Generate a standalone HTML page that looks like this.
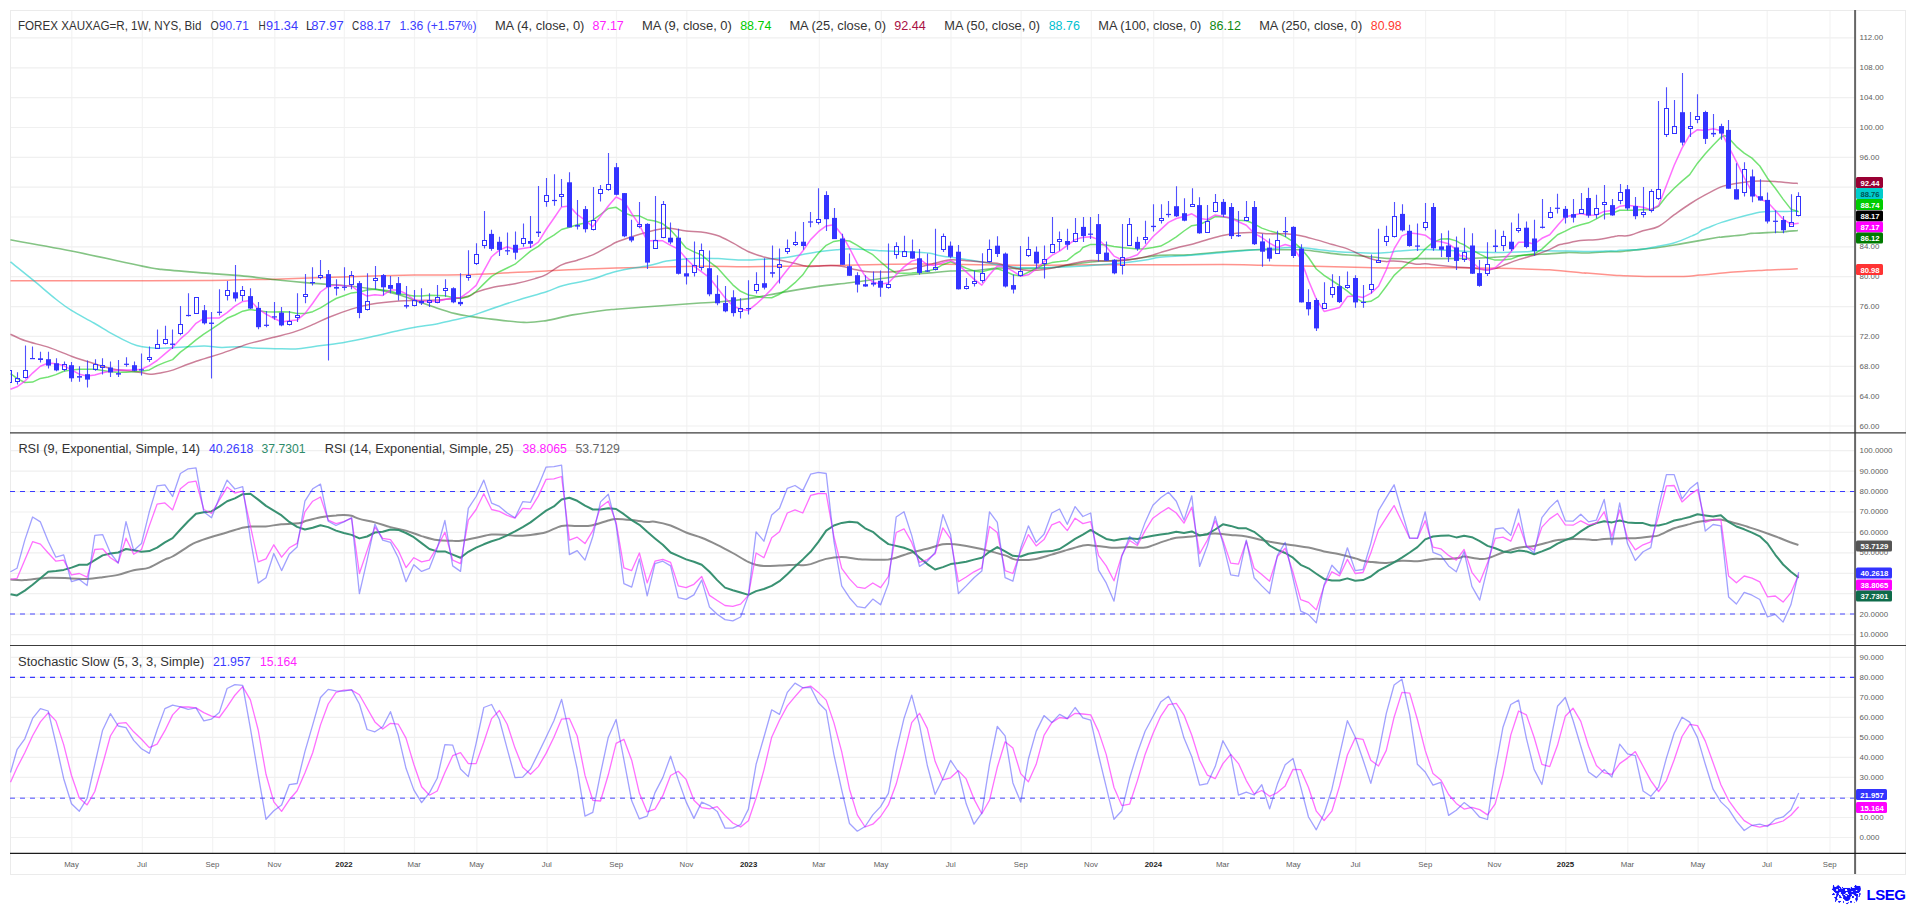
<!DOCTYPE html><html><head><meta charset="utf-8"><title>Chart</title><style>html,body{margin:0;padding:0;background:#fff;overflow:hidden}svg{display:block}</style></head><body><svg width="1916" height="905" viewBox="0 0 1916 905" font-family="'Liberation Sans', sans-serif">
<defs><clipPath id="cp"><rect x="10" y="10" width="1845" height="843"/></clipPath></defs>
<rect width="1916" height="905" fill="#fff"/>
<path d="M71.8,10 V853.5 M142.3,10 V853.5 M212.7,10 V853.5 M274.8,10 V853.5 M344.3,10 V853.5 M414.5,10 V853.5 M476.9,10 V853.5 M547.1,10 V853.5 M616.5,10 V853.5 M686.8,10 V853.5 M748.9,10 V853.5 M819.3,10 V853.5 M881.3,10 V853.5 M951.0,10 V853.5 M1021.1,10 V853.5 M1091.3,10 V853.5 M1153.7,10 V853.5 M1222.9,10 V853.5 M1293.7,10 V853.5 M1355.8,10 V853.5 M1425.6,10 V853.5 M1494.8,10 V853.5 M1565.8,10 V853.5 M1627.8,10 V853.5 M1698.1,10 V853.5 M1767.2,10 V853.5 M1830.0,10 V853.5" stroke="#f3f3f3" stroke-width="1.2" fill="none"/>
<path d="M10,426.0 H1855 M10,396.1 H1855 M10,366.3 H1855 M10,336.4 H1855 M10,306.6 H1855 M10,276.7 H1855 M10,246.9 H1855 M10,217.0 H1855 M10,187.2 H1855 M10,157.3 H1855 M10,127.5 H1855 M10,97.6 H1855 M10,67.8 H1855 M10,37.9 H1855 M10,634.6 H1855 M10,614.2 H1855 M10,593.7 H1855 M10,573.3 H1855 M10,552.9 H1855 M10,532.4 H1855 M10,512.0 H1855 M10,491.6 H1855 M10,471.1 H1855 M10,450.7 H1855 M10,837.5 H1855 M10,817.5 H1855 M10,797.5 H1855 M10,777.4 H1855 M10,757.4 H1855 M10,737.4 H1855 M10,717.4 H1855 M10,697.4 H1855 M10,677.3 H1855 M10,657.3 H1855" stroke="#f0f0f0" stroke-width="1.2" fill="none"/>
<rect x="10.5" y="10.5" width="1895" height="864" fill="none" stroke="#ebebeb" stroke-width="1"/>
<g clip-path="url(#cp)">
<path d="M10.5,280.7C27.5,280.7 79.1,280.7 112.7,280.7C146.3,280.7 191.0,280.7 212.2,280.5C233.4,280.4 229.5,280.0 240.0,279.8C250.5,279.5 258.0,279.7 275.1,279.2C292.2,278.7 319.5,277.6 342.7,276.9C365.8,276.3 392.8,275.5 414.0,275.1C435.3,274.7 447.9,275.2 470.0,274.5C492.1,273.8 522.1,272.0 546.4,270.9C570.7,269.8 590.3,268.9 615.9,268.1C641.5,267.3 677.9,266.4 700.0,266.2C722.1,266.0 728.8,266.8 748.6,266.7C768.4,266.6 796.7,266.2 818.8,265.8C841.0,265.4 863.0,264.8 881.5,264.5C900.1,264.1 906.7,263.8 930.0,263.9C953.3,264.0 994.6,265.1 1021.4,265.2C1048.2,265.4 1067.8,264.9 1090.9,264.8C1114.0,264.8 1137.9,264.9 1160.0,264.8C1182.1,264.8 1206.1,264.4 1223.2,264.5C1240.4,264.5 1251.1,265.0 1262.7,265.2C1274.3,265.4 1277.4,265.4 1292.7,265.8C1308.1,266.1 1338.5,266.9 1354.7,267.3C1370.9,267.7 1378.3,268.0 1390.0,268.0C1401.7,268.1 1411.1,267.7 1425.1,267.7C1439.1,267.7 1459.5,267.9 1473.9,268.0C1488.3,268.2 1498.8,268.3 1511.5,268.6C1524.1,268.9 1537.5,269.1 1549.5,269.8C1561.6,270.6 1577.3,272.5 1583.5,273.1C1589.6,273.6 1581.0,272.7 1586.6,273.1C1592.1,273.5 1611.3,275.0 1616.9,275.4C1622.4,275.8 1614.4,275.4 1620.0,275.5C1625.6,275.7 1639.6,276.3 1650.3,276.4C1660.9,276.6 1675.3,276.6 1683.6,276.4C1692.0,276.2 1692.0,275.8 1700.3,275.1C1708.7,274.4 1724.0,272.8 1733.7,272.1C1743.5,271.3 1753.2,270.9 1758.7,270.6C1764.3,270.3 1763.5,270.3 1767.1,270.1C1770.7,269.9 1775.2,269.8 1780.3,269.6C1785.4,269.4 1794.9,268.9 1797.8,268.7" fill="none" stroke="#ff3b30" stroke-width="1.5" stroke-opacity="0.55"/>
<path d="M10.5,239.8C20.6,241.6 49.4,246.7 71.4,251.0C93.3,255.4 127.1,263.0 142.2,266.1C157.2,269.1 149.8,268.2 161.5,269.4C173.2,270.7 199.1,272.5 212.2,273.6C225.3,274.6 233.3,275.1 240.0,275.6C246.7,276.2 246.7,276.3 252.5,276.9C258.4,277.6 266.3,278.8 275.1,279.8C283.8,280.7 296.1,281.8 305.1,282.6C314.1,283.4 321.1,283.8 329.0,284.5C336.8,285.1 343.5,285.4 352.1,286.3C360.6,287.3 372.4,288.7 380.2,290.1C388.1,291.5 392.8,292.9 399.0,294.8C405.3,296.7 411.5,299.2 417.8,301.4C424.1,303.6 430.3,305.9 436.6,307.9C442.8,310.0 449.8,312.2 455.4,313.6C460.9,315.0 464.5,315.5 470.0,316.4C475.5,317.2 479.2,317.7 488.2,318.7C497.1,319.7 514.1,322.1 523.8,322.4C533.6,322.8 538.2,321.8 546.4,320.6C554.5,319.3 562.7,316.7 572.7,314.9C582.7,313.2 599.3,310.9 606.5,310.0C613.7,309.0 609.0,309.8 615.9,309.3C622.8,308.8 633.8,307.9 647.8,306.8C661.8,305.8 688.3,303.8 700.0,303.0C711.7,302.2 710.1,302.7 718.2,302.0C726.3,301.3 737.6,300.3 748.6,298.6C759.5,297.0 772.2,294.1 783.9,292.1C795.6,290.0 807.9,288.0 818.8,286.4C829.8,284.9 839.2,284.0 849.6,282.7C860.1,281.4 872.2,279.8 881.5,278.5C890.9,277.3 897.9,276.1 906.0,275.2C914.0,274.2 922.6,273.6 930.0,272.9C937.4,272.2 942.7,271.4 950.4,271.0C958.1,270.6 968.6,271.0 976.3,270.5C984.1,270.0 989.5,268.3 997.0,268.0C1004.5,267.7 1012.3,268.7 1021.4,268.6C1030.5,268.5 1039.9,268.7 1051.5,267.7C1063.0,266.6 1078.4,263.3 1090.9,262.0C1103.4,260.7 1115.1,260.9 1126.6,259.8C1138.1,258.7 1149.8,256.3 1160.0,255.4C1170.2,254.6 1177.0,255.5 1187.6,254.9C1198.1,254.3 1212.0,252.5 1223.2,251.7C1234.5,250.8 1245.5,250.1 1255.2,249.8C1264.9,249.5 1273.9,249.8 1281.5,249.8C1289.0,249.8 1294.0,249.5 1300.2,249.8C1306.5,250.1 1312.8,251.0 1319.0,251.7C1325.3,252.4 1331.8,253.5 1337.8,254.1C1343.7,254.8 1348.4,254.9 1354.7,255.4C1361.0,256.0 1369.5,256.8 1375.4,257.3C1381.2,257.9 1381.7,258.4 1390.0,258.6C1398.3,258.9 1411.1,258.7 1425.1,258.6C1439.1,258.6 1459.5,258.7 1473.9,258.3C1488.3,257.9 1501.5,256.8 1511.5,256.2C1521.4,255.6 1527.1,254.9 1533.4,254.6C1539.6,254.2 1543.4,254.3 1549.0,253.9C1554.6,253.6 1560.5,252.7 1566.8,252.6C1573.0,252.4 1579.6,253.1 1586.6,253.0C1593.5,252.9 1602.9,251.9 1608.5,251.7C1614.1,251.5 1615.8,252.0 1620.0,251.7C1624.2,251.4 1627.1,250.7 1633.6,250.1C1640.0,249.4 1650.3,248.7 1658.6,247.5C1666.9,246.4 1673.9,245.0 1683.6,243.4C1693.4,241.7 1710.9,238.6 1717.0,237.5C1723.2,236.5 1715.9,237.6 1720.5,237.2C1725.0,236.7 1739.4,235.5 1744.4,234.8C1749.4,234.2 1748.0,233.6 1750.4,233.4C1752.8,233.1 1754.9,233.3 1759.0,233.1C1763.1,232.9 1771.0,232.4 1775.0,232.2C1778.9,232.1 1780.7,232.3 1782.8,232.1C1784.9,232.0 1784.9,231.7 1787.5,231.4C1790.0,231.1 1796.2,230.7 1797.9,230.5" fill="none" stroke="#0a8a0a" stroke-width="1.6" stroke-opacity="0.5"/>
<path d="M10.5,261.9C14.4,265.1 26.2,274.4 33.8,280.7C41.4,287.0 50.1,294.5 56.3,299.5C62.6,304.4 65.1,306.5 71.4,310.4C77.6,314.3 87.0,319.0 93.9,323.0C100.8,326.9 106.4,330.8 112.7,334.2C118.9,337.7 126.5,341.5 131.5,343.6C136.4,345.7 137.8,346.0 142.2,346.8C146.5,347.6 150.1,348.3 157.7,348.3C165.4,348.3 180.0,347.2 187.8,346.8C195.6,346.4 199.1,346.0 204.7,346.1C210.3,346.2 215.7,347.2 221.6,347.4C227.5,347.5 234.8,346.7 240.0,346.8C245.2,346.9 246.7,347.6 252.5,347.9C258.4,348.2 267.9,348.5 275.1,348.7C282.3,348.8 289.2,349.2 295.7,348.9C302.3,348.5 306.7,347.5 314.5,346.4C322.3,345.4 333.3,344.2 342.7,342.7C352.1,341.1 361.5,339.1 370.8,337.0C380.2,335.0 391.2,332.2 399.0,330.5C406.8,328.7 411.5,327.8 417.8,326.7C424.1,325.6 430.3,325.1 436.6,323.9C442.8,322.7 449.8,321.0 455.4,319.8C460.9,318.5 464.5,318.0 470.0,316.4C475.5,314.7 480.4,312.6 488.2,310.0C495.9,307.3 506.6,303.6 516.3,300.6C526.0,297.5 538.6,294.2 546.4,291.7C554.2,289.2 555.8,287.6 563.3,285.5C570.8,283.5 582.7,281.7 591.5,279.3C600.2,277.0 606.5,273.7 615.9,271.5C625.3,269.2 639.3,267.5 647.8,265.8C656.2,264.1 660.3,262.3 666.6,261.1C672.8,260.0 679.8,259.3 685.4,258.9C690.9,258.4 694.5,258.3 700.0,258.3C705.5,258.3 711.4,258.3 718.2,258.6C725.0,258.9 732.9,260.0 740.7,260.1C748.5,260.2 757.3,259.7 765.1,259.2C772.9,258.7 781.4,258.1 787.7,257.3C793.9,256.5 797.5,255.4 802.7,254.5C807.9,253.6 813.2,252.5 818.8,251.7C824.5,250.9 830.7,250.3 836.5,249.8C842.2,249.3 845.9,248.7 853.4,248.9C860.9,249.0 872.8,250.3 881.5,250.8C890.3,251.2 897.9,251.3 906.0,251.7C914.0,252.1 924.5,252.6 930.0,253.2C935.5,253.8 934.1,254.6 938.8,255.4C943.5,256.3 951.1,257.2 958.3,258.3C965.5,259.4 974.4,260.8 982.2,262.0C989.9,263.3 998.3,264.8 1004.9,265.8C1011.4,266.7 1014.8,267.3 1021.4,267.7C1028.0,268.0 1036.2,267.8 1044.3,267.7C1052.5,267.5 1062.5,267.1 1070.2,266.7C1078.0,266.3 1082.3,266.0 1090.9,265.4C1099.5,264.8 1112.6,263.8 1121.7,263.0C1130.8,262.1 1139.0,261.1 1145.4,260.1C1151.7,259.2 1153.0,258.1 1160.0,257.3C1167.0,256.5 1177.0,256.2 1187.6,255.4C1198.1,254.7 1212.0,253.6 1223.2,252.6C1234.5,251.7 1245.5,250.6 1255.2,249.8C1264.9,249.0 1273.9,248.3 1281.5,247.9C1289.0,247.5 1294.0,247.1 1300.2,247.4C1306.5,247.7 1312.8,249.1 1319.0,249.8C1325.3,250.5 1331.8,251.2 1337.8,251.7C1343.7,252.2 1348.4,252.4 1354.7,252.6C1361.0,252.9 1369.5,253.3 1375.4,253.2C1381.2,253.1 1386.1,252.6 1390.0,252.3C1393.9,251.9 1392.9,251.6 1398.8,251.1C1404.6,250.7 1415.7,249.7 1425.1,249.6C1434.5,249.6 1443.8,250.3 1455.1,250.8C1466.4,251.2 1480.2,252.3 1492.7,252.4C1505.2,252.6 1523.4,251.8 1530.2,251.5C1537.0,251.2 1527.1,250.9 1533.4,250.9C1539.6,250.8 1559.4,251.0 1567.8,251.1C1576.1,251.2 1577.2,251.4 1583.5,251.4C1589.7,251.4 1599.8,251.2 1605.4,251.1C1610.9,251.0 1614.4,251.0 1616.9,250.9C1619.3,250.7 1615.8,250.5 1620.0,250.2C1624.2,249.9 1635.6,249.9 1641.9,249.2C1648.2,248.6 1652.2,247.4 1657.8,246.3C1663.3,245.2 1669.6,244.3 1675.3,242.5C1681.0,240.8 1688.3,237.4 1692.0,235.9C1695.7,234.3 1695.9,234.3 1697.6,233.3C1699.3,232.3 1700.2,230.9 1702.0,230.0C1703.9,229.0 1705.4,228.8 1708.7,227.5C1711.9,226.2 1715.9,224.2 1721.6,222.4C1727.3,220.5 1736.7,217.9 1743.0,216.2C1749.2,214.5 1755.3,213.0 1759.3,212.2C1763.3,211.5 1764.4,211.9 1767.0,211.7C1769.6,211.6 1772.4,211.2 1775.1,211.2C1777.7,211.1 1780.2,211.6 1782.8,211.6C1785.4,211.6 1788.1,211.2 1790.7,211.2C1793.2,211.1 1796.7,211.2 1797.9,211.2" fill="none" stroke="#00c8c8" stroke-width="1.5" stroke-opacity="0.55"/>
<path d="M10.5,334.2C13.0,335.3 19.0,338.6 25.4,340.8C31.7,343.0 41.2,344.8 48.8,347.4C56.5,349.9 64.9,353.8 71.4,356.2C77.8,358.5 80.6,359.3 87.5,361.5C94.4,363.6 105.4,367.3 112.7,369.0C120.0,370.6 126.5,370.6 131.5,371.2C136.4,371.8 139.0,372.2 142.2,372.7C145.3,373.2 147.0,374.2 150.2,374.2C153.5,374.2 157.6,373.4 161.5,372.7C165.4,372.0 169.1,371.3 173.5,369.9C177.9,368.5 182.6,366.2 187.8,364.3C193.0,362.4 199.3,360.4 204.7,358.6C210.1,356.9 214.2,355.9 220.1,353.9C226.0,352.0 235.2,348.5 240.0,346.8C244.8,345.1 242.9,345.2 248.8,343.6C254.6,342.0 267.2,339.1 275.1,337.0C282.9,335.0 289.2,333.6 295.7,331.4C302.3,329.2 309.0,326.2 314.5,323.9C320.0,321.5 322.7,319.8 329.0,317.3C335.2,314.8 345.1,311.1 352.1,308.9C359.0,306.7 363.0,305.5 370.8,304.2C378.7,302.9 391.2,301.6 399.0,301.0C406.8,300.4 411.5,300.6 417.8,300.4C424.1,300.2 430.3,300.2 436.6,299.9C442.8,299.5 449.8,299.2 455.4,298.5C460.9,297.9 466.5,296.8 470.0,295.7C473.5,294.7 472.6,293.5 476.3,292.1C480.1,290.7 485.9,288.8 492.3,287.4C498.7,286.0 507.9,285.1 515.0,283.7C522.2,282.2 529.9,280.2 535.1,278.6C540.4,277.0 542.2,276.6 546.6,274.3C551.0,272.0 556.5,267.2 561.6,264.9C566.7,262.5 572.1,261.9 577.4,260.2C582.7,258.5 588.0,256.9 593.3,254.6C598.6,252.2 605.3,248.1 609.1,246.1C612.9,244.1 612.3,243.9 616.1,242.3C619.8,240.8 626.6,238.4 631.8,236.7C637.1,235.0 642.2,233.4 647.4,232.0C652.7,230.7 659.5,229.3 663.4,228.6C667.2,228.0 666.7,227.9 670.5,228.3C674.3,228.7 681.2,230.5 686.3,231.1C691.4,231.7 695.8,231.2 701.1,232.0C706.4,232.8 712.8,233.9 718.2,235.7C723.5,237.6 728.1,240.6 733.2,243.2C738.3,245.9 743.3,249.3 748.6,251.7C753.9,254.0 760.0,255.9 765.1,257.3C770.3,258.7 774.4,259.1 779.4,260.1C784.4,261.2 790.7,262.5 795.2,263.5C799.7,264.5 802.5,265.7 806.4,266.2C810.4,266.6 814.8,266.3 818.8,266.2C822.9,266.0 827.1,265.4 830.8,265.4C834.6,265.4 837.8,265.5 841.5,266.2C845.3,266.8 849.4,268.3 853.4,269.2C857.3,270.0 860.6,270.9 865.2,271.4C869.8,271.9 876.0,272.0 881.2,272.0C886.3,272.0 891.1,271.9 896.2,271.4C901.3,270.9 906.0,270.1 911.6,269.0C917.2,267.8 926.0,265.5 930.0,264.5C934.0,263.5 932.2,263.7 935.6,263.0C939.0,262.2 945.3,260.1 950.4,259.8C955.6,259.4 961.1,260.3 966.4,260.7C971.7,261.1 977.1,261.6 982.2,262.0C987.3,262.5 991.9,262.4 997.0,263.3C1002.1,264.3 1007.5,266.5 1012.8,267.7C1018.0,268.8 1023.3,270.2 1028.5,270.5C1033.8,270.8 1039.2,270.2 1044.3,269.5C1049.5,268.9 1054.2,267.8 1059.3,266.7C1064.5,265.6 1070.0,264.0 1075.3,263.0C1080.6,261.9 1086.0,260.8 1091.1,260.5C1096.2,260.2 1100.8,261.0 1105.9,261.1C1111.0,261.1 1116.4,261.1 1121.7,260.7C1126.9,260.3 1132.2,259.6 1137.5,258.6C1142.7,257.7 1149.5,255.9 1153.2,254.9C1157.0,253.9 1156.3,253.8 1160.2,252.6C1164.0,251.5 1171.0,249.3 1176.3,247.9C1181.6,246.5 1186.8,245.6 1192.1,244.2C1197.3,242.8 1202.7,241.0 1207.8,239.5C1212.9,238.0 1217.6,236.4 1222.7,235.4C1227.8,234.3 1233.2,233.4 1238.5,232.9C1243.7,232.4 1249.3,232.4 1254.4,232.5C1259.5,232.7 1264.1,233.6 1269.2,233.8C1274.4,234.1 1279.8,233.5 1285.0,233.8C1290.3,234.2 1295.5,234.7 1300.8,235.7C1306.1,236.7 1311.5,238.5 1316.6,239.9C1321.7,241.3 1326.3,242.7 1331.4,244.2C1336.5,245.7 1342.1,246.9 1347.4,248.9C1352.7,250.8 1358.5,254.1 1363.1,256.0C1367.8,257.9 1371.5,259.2 1375.4,260.1C1379.2,261.1 1383.6,261.5 1386.1,261.6C1388.5,261.8 1387.4,261.1 1390.0,261.1C1392.6,261.0 1397.2,260.9 1401.8,261.5C1406.4,262.0 1413.6,263.9 1417.6,264.3C1421.5,264.6 1421.6,263.5 1425.4,263.7C1429.3,263.9 1435.3,265.0 1440.5,265.6C1445.6,266.2 1451.0,266.7 1456.2,267.1C1461.5,267.5 1468.2,267.7 1472.2,268.0C1476.2,268.4 1477.6,269.0 1480.1,269.3C1482.6,269.7 1484.6,270.0 1487.0,269.9C1489.5,269.8 1492.3,269.3 1494.9,268.6C1497.6,267.9 1498.9,267.1 1502.8,265.6C1506.8,264.1 1513.4,261.3 1518.6,259.6C1523.8,257.9 1528.7,256.9 1533.9,255.3C1539.0,253.6 1545.3,251.3 1549.4,249.6C1553.5,247.9 1555.8,246.0 1558.4,245.0C1561.1,244.0 1561.7,244.4 1565.4,243.6C1569.0,242.9 1575.5,241.2 1580.5,240.6C1585.6,239.9 1590.4,240.3 1595.6,239.8C1600.7,239.2 1608.0,237.7 1611.5,237.0C1615.1,236.4 1615.5,236.1 1616.9,235.9C1618.3,235.6 1618.0,235.8 1620.0,235.7C1622.0,235.7 1625.0,236.4 1628.8,235.6C1632.6,234.8 1637.9,232.3 1642.9,230.8C1647.8,229.3 1653.2,229.2 1658.4,226.5C1663.6,223.9 1668.8,218.7 1674.0,214.9C1679.3,211.2 1684.7,207.3 1689.8,204.0C1694.9,200.7 1699.5,198.0 1704.7,195.2C1709.8,192.4 1716.5,188.8 1720.4,187.1C1724.4,185.4 1724.3,185.8 1728.3,184.9C1732.3,184.1 1739.2,182.8 1744.4,182.2C1749.5,181.5 1754.2,181.2 1759.3,181.1C1764.4,181.0 1769.8,181.2 1775.0,181.5C1780.2,181.8 1786.8,182.6 1790.6,182.9C1794.4,183.3 1796.7,183.3 1797.9,183.4" fill="none" stroke="#990033" stroke-width="1.5" stroke-opacity="0.5"/>
<polyline points="10.5,373.7 17.0,378.4 24.8,382.5 32.6,382.1 40.4,378.4 48.2,377.0 55.9,374.6 63.7,371.2 71.5,369.9 79.3,369.3 87.1,369.3 94.8,369.3 102.6,370.5 110.4,371.8 118.2,372.3 126.0,372.2 133.7,371.8 141.5,371.2 149.3,369.9 157.1,365.6 164.9,362.4 172.6,359.6 180.4,352.1 188.2,346.4 196.0,339.9 203.8,334.2 211.5,329.2 219.3,323.9 227.1,318.3 234.9,315.0 242.7,311.2 250.4,309.4 258.2,310.8 266.0,311.7 273.8,312.1 281.6,311.7 289.3,312.1 297.1,313.6 304.9,313.6 312.7,311.7 320.5,307.9 328.2,303.2 336.0,298.5 343.8,295.7 351.6,292.9 359.4,292.0 367.1,290.1 374.9,289.2 382.7,290.1 390.5,291.0 398.3,293.8 406.0,294.8 413.8,296.1 421.6,296.1 429.4,295.2 437.2,295.4 444.9,295.7 452.7,297.6 460.5,298.5 468.3,296.7 476.1,291.5 483.8,283.9 491.6,276.4 499.4,271.7 507.2,268.0 515.0,264.2 522.7,257.7 530.5,251.1 538.3,246.4 546.1,239.8 553.9,235.1 561.6,229.5 569.4,227.2 577.2,224.8 585.0,222.9 592.8,220.1 600.5,214.5 608.3,208.5 616.1,207.3 623.9,212.6 631.7,215.8 639.4,215.8 647.2,219.7 655.0,221.0 662.8,223.8 670.6,229.9 678.3,238.5 686.1,247.9 693.9,251.9 701.7,255.0 709.5,261.8 717.2,267.6 725.0,276.2 732.8,284.8 740.6,291.3 748.4,294.9 756.1,296.3 763.9,297.5 771.7,297.8 779.5,294.2 787.3,289.1 795.0,282.7 802.8,274.8 810.6,263.3 818.4,253.2 826.2,245.3 833.9,241.4 841.7,240.3 849.5,241.0 857.3,245.3 865.1,250.3 872.8,254.7 880.6,261.8 888.4,268.3 896.2,273.0 904.0,273.3 911.7,273.0 919.5,272.2 927.3,271.2 935.1,269.0 942.9,264.7 950.6,261.8 958.4,264.7 966.2,268.3 974.0,270.9 981.8,271.9 989.5,269.7 997.3,268.7 1005.1,271.2 1012.9,274.8 1020.7,275.9 1028.4,272.2 1036.2,268.3 1044.0,264.7 1051.8,262.6 1059.6,261.6 1067.3,260.4 1075.1,254.0 1080.0,251.1 1082.9,247.5 1090.7,244.4 1098.5,244.4 1106.2,245.1 1114.0,246.4 1121.8,247.5 1129.6,248.2 1137.4,249.0 1145.1,248.7 1152.9,247.5 1160.7,246.1 1168.5,241.8 1176.3,236.8 1184.0,231.0 1191.8,225.7 1199.6,224.5 1207.4,220.9 1215.2,216.6 1222.9,217.1 1230.7,218.1 1238.5,220.2 1246.3,220.7 1254.1,223.8 1261.8,228.1 1269.6,230.9 1277.4,233.0 1285.2,236.6 1293.0,241.7 1300.7,248.1 1308.5,257.5 1316.3,269.0 1324.1,275.4 1331.9,280.5 1339.6,285.5 1347.4,291.2 1355.2,297.7 1363.0,302.3 1370.8,301.3 1378.5,296.6 1386.3,286.2 1394.1,275.4 1401.9,268.2 1409.7,261.8 1417.4,257.5 1425.2,248.9 1433.0,242.4 1440.8,239.1 1448.6,238.8 1456.3,240.9 1460.0,243.1 1464.1,244.8 1471.9,249.8 1479.7,254.1 1487.5,258.0 1495.2,260.1 1503.0,259.9 1510.8,259.1 1518.6,256.0 1526.4,254.8 1534.1,254.1 1541.9,249.1 1549.7,241.9 1557.5,234.7 1565.3,231.1 1573.0,227.2 1580.8,224.7 1588.6,222.8 1596.4,218.9 1604.2,214.3 1611.9,213.4 1619.7,210.3 1627.5,210.3 1635.3,210.3 1643.1,209.6 1650.8,209.7 1658.6,206.3 1666.4,196.2 1674.2,188.3 1682.0,181.1 1689.7,174.7 1697.5,163.2 1705.3,153.8 1713.1,145.2 1720.9,137.3 1724.8,135.6 1728.6,138.0 1736.4,146.6 1744.2,153.1 1752.0,158.1 1759.8,166.0 1767.5,178.2 1775.3,188.3 1783.1,199.1 1790.9,209.1 1798.7,211.7" fill="none" stroke="#00cc00" stroke-width="1.5" stroke-opacity="0.55" stroke-linejoin="round" />
<polyline points="10.5,389.2 17.0,386.8 24.8,381.2 32.6,373.1 40.4,366.2 48.2,363.0 55.9,363.7 63.7,365.6 71.5,369.9 79.3,374.2 87.1,376.1 94.8,375.0 102.6,372.7 110.4,371.2 118.2,369.9 126.0,369.9 133.7,369.9 141.5,369.3 149.3,365.6 157.1,360.5 164.9,353.9 172.6,347.4 180.4,338.9 188.2,332.3 196.0,323.3 203.8,318.3 211.5,317.9 219.3,317.9 227.1,312.6 234.9,306.1 242.7,301.4 250.4,300.4 258.2,308.9 266.0,314.1 273.8,318.3 281.6,322.0 289.3,320.7 297.1,320.1 304.9,313.6 312.7,303.2 320.5,292.0 328.2,286.3 336.0,285.0 343.8,285.8 351.6,286.0 359.4,292.0 367.1,296.1 374.9,294.8 382.7,295.4 390.5,290.1 398.3,290.1 406.0,293.8 413.8,299.5 421.6,301.4 429.4,301.4 437.2,301.4 444.9,299.5 452.7,298.0 460.5,297.6 468.3,292.2 476.1,285.4 483.8,270.8 491.6,256.7 499.4,250.1 507.2,246.8 515.0,249.8 522.7,248.6 530.5,247.3 538.3,242.1 546.1,229.5 553.9,218.2 561.6,206.9 569.4,206.0 577.2,214.5 585.0,220.1 592.8,226.7 600.5,216.3 608.3,206.0 616.1,197.0 623.9,200.9 631.7,213.5 639.4,224.8 647.2,241.1 655.0,240.4 662.8,240.8 670.6,245.4 678.3,249.2 686.1,258.6 693.9,266.2 701.7,271.8 709.5,277.6 717.2,287.7 725.0,297.8 732.8,305.7 740.6,309.3 748.4,310.4 756.1,304.2 763.9,297.0 771.7,289.1 779.5,279.8 787.3,269.7 795.0,260.4 802.8,251.1 810.6,239.6 818.4,231.7 826.2,225.9 833.9,224.8 841.7,234.5 849.5,248.2 857.3,263.3 865.1,276.2 872.8,282.0 880.6,284.1 888.4,283.0 896.2,274.8 904.0,266.9 911.7,261.1 919.5,259.0 927.3,264.7 935.1,265.4 942.9,262.6 950.6,260.4 958.4,264.7 966.2,271.9 974.0,279.1 981.8,285.1 989.5,274.8 997.3,266.1 1005.1,266.9 1012.9,271.2 1020.7,276.2 1028.4,274.8 1036.2,269.0 1044.0,261.8 1051.8,255.4 1059.6,251.1 1067.3,245.3 1075.1,239.6 1080.0,238.1 1082.9,237.5 1090.7,236.8 1098.5,239.6 1106.2,246.8 1114.0,256.1 1121.8,259.7 1129.6,257.6 1137.4,254.7 1145.1,246.1 1152.9,236.8 1160.7,229.6 1168.5,222.4 1176.3,218.5 1184.0,216.6 1191.8,213.8 1199.6,218.5 1207.4,219.5 1215.2,214.9 1222.9,216.6 1230.7,218.1 1238.5,221.7 1246.3,225.3 1254.1,233.2 1261.8,237.5 1269.6,243.2 1277.4,247.4 1285.2,244.5 1293.0,246.7 1300.7,258.9 1308.5,280.5 1316.3,299.1 1324.1,311.4 1331.9,309.5 1339.6,307.5 1347.4,296.6 1355.2,296.0 1363.0,297.4 1370.8,293.4 1378.5,286.2 1386.3,269.7 1394.1,248.9 1401.9,235.9 1409.7,233.0 1417.4,233.8 1425.2,235.2 1433.0,240.9 1440.8,241.7 1448.6,243.8 1456.3,249.6 1460.0,256.0 1464.1,255.5 1471.9,262.0 1479.7,268.5 1487.5,270.3 1495.2,267.8 1503.0,260.6 1510.8,252.0 1518.6,242.2 1526.4,242.2 1534.1,244.1 1541.9,238.3 1549.7,234.7 1557.5,225.4 1565.3,216.8 1573.0,215.3 1580.8,213.4 1588.6,215.3 1596.4,214.9 1604.2,211.4 1611.9,210.6 1619.7,206.3 1627.5,205.3 1635.3,206.3 1643.1,207.2 1650.8,209.7 1658.6,205.5 1666.4,185.4 1674.2,165.3 1682.0,148.1 1689.7,135.1 1697.5,129.7 1705.3,130.5 1713.1,128.7 1720.9,130.8 1728.6,146.6 1736.4,161.7 1744.2,177.5 1752.0,191.9 1759.8,199.1 1767.5,202.0 1775.3,210.6 1783.1,219.2 1790.9,224.2 1798.7,223.2" fill="none" stroke="#ff22ff" stroke-width="1.5" stroke-opacity="0.65" stroke-linejoin="round" />
<path d="M9.5,383.0 V383.1 M17.5,372.3 V378.0 M17.5,382.0 V384.4 M25.5,345.5 V370.0 M25.5,378.0 V378.4 M32.5,346.4 V359.0 M40.5,351.7 V362.4 M48.5,351.7 V368.6 M56.5,358.3 V371.2 M64.5,361.5 V364.0 M64.5,370.0 V371.2 M71.5,362.0 V381.7 M79.5,366.2 V381.7 M87.5,360.5 V387.4 M95.5,359.2 V364.0 M95.5,370.0 V370.8 M102.5,358.3 V365.0 M102.5,368.0 V374.6 M110.5,361.5 V376.9 M118.5,360.1 V376.9 M126.5,357.3 V366.7 M134.5,361.5 V371.2 M141.5,353.4 V375.5 M149.5,346.4 V357.0 M149.5,360.0 V362.0 M157.5,329.5 V344.0 M165.5,325.8 V339.0 M165.5,344.0 V344.6 M172.5,329.5 V348.9 M180.5,306.1 V324.0 M180.5,334.0 V335.2 M188.5,293.3 V316.4 M196.5,314.0 V314.1 M204.5,305.1 V324.5 M211.5,312.1 V378.4 M219.5,289.2 V315.4 M227.5,281.1 V290.0 M227.5,296.0 V300.4 M235.5,265.1 V301.4 M242.5,286.0 V290.0 M242.5,296.0 V301.0 M250.5,288.2 V308.9 M258.5,301.9 V329.2 M266.5,311.1 V327.3 M274.5,301.9 V319.8 M281.5,307.0 V326.2 M289.5,311.1 V321.0 M289.5,325.0 V325.4 M297.5,293.3 V315.0 M297.5,318.0 V322.0 M305.5,274.1 V294.0 M305.5,297.0 V303.2 M312.5,267.2 V285.4 M320.5,260.0 V275.0 M320.5,278.0 V279.2 M328.5,270.0 V360.5 M336.5,279.2 V295.4 M344.5,267.2 V290.5 M351.5,270.9 V275.0 M351.5,285.0 V289.2 M359.5,281.1 V318.3 M367.5,273.2 V301.0 M367.5,310.0 V310.4 M375.5,266.1 V278.0 M375.5,281.0 V289.2 M383.5,274.1 V295.4 M390.5,276.0 V293.3 M398.5,276.9 V300.4 M406.5,286.0 V308.5 M414.5,290.1 V300.0 M414.5,306.0 V306.4 M421.5,288.2 V305.1 M429.5,293.3 V300.0 M429.5,303.0 V307.0 M437.5,285.0 V297.0 M437.5,303.0 V303.2 M445.5,279.2 V288.0 M445.5,291.0 V296.7 M453.5,287.3 V303.2 M460.5,273.2 V306.1 M468.5,250.3 V275.0 M468.5,278.0 V280.7 M476.5,243.3 V254.0 M476.5,264.0 V264.9 M484.5,211.0 V240.0 M484.5,246.0 V248.4 M491.5,229.8 V250.8 M499.5,236.7 V255.9 M507.5,232.6 V254.9 M515.5,231.6 V259.6 M523.5,223.6 V238.0 M523.5,244.0 V246.7 M530.5,216.1 V248.0 M538.5,186.0 V237.1 M546.5,178.1 V195.0 M546.5,202.0 V206.7 M554.5,174.2 V205.7 M561.5,179.1 V194.0 M561.5,197.0 V206.7 M569.5,172.3 V227.3 M577.5,200.1 V229.6 M585.5,206.1 V232.4 M593.5,186.9 V220.0 M593.5,230.0 V230.5 M600.5,185.1 V189.0 M600.5,194.0 V201.6 M608.5,153.1 V184.0 M608.5,190.0 V190.7 M616.5,163.1 V195.4 M624.5,193.1 V237.3 M631.5,219.8 V242.3 M639.5,202.0 V224.0 M639.5,227.0 V228.3 M647.5,223.2 V269.0 M655.5,196.0 V240.0 M663.5,201.0 V204.0 M663.5,238.0 V238.2 M670.5,222.6 V244.2 M678.5,228.8 V274.6 M686.5,257.9 V284.6 M694.5,241.4 V265.0 M694.5,273.0 V276.5 M701.5,243.6 V250.0 M701.5,268.0 V270.5 M709.5,250.4 V296.2 M717.5,275.2 V305.2 M725.5,286.1 V312.3 M733.5,290.2 V316.5 M740.5,298.3 V308.0 M740.5,312.0 V318.4 M748.5,280.2 V314.6 M756.5,272.3 V284.0 M756.5,291.0 V293.4 M764.5,258.3 V289.6 M772.5,245.5 V277.6 M779.5,248.5 V264.0 M779.5,268.0 V283.6 M787.5,239.5 V248.0 M787.5,252.0 V253.9 M795.5,231.6 V242.0 M795.5,245.0 V246.1 M803.5,222.0 V249.8 M810.5,211.9 V227.3 M818.5,188.2 V219.0 M818.5,223.0 V224.5 M826.5,191.2 V231.0 M834.5,208.1 V239.1 M842.5,233.8 V264.8 M849.5,253.6 V275.7 M857.5,272.3 V292.6 M865.5,275.2 V286.8 M873.5,271.4 V286.4 M880.5,270.5 V296.8 M888.5,243.6 V284.0 M888.5,288.0 V288.7 M896.5,242.3 V246.0 M896.5,255.0 V258.8 M904.5,235.7 V251.0 M912.5,239.5 V258.8 M919.5,248.9 V274.8 M927.5,253.6 V272.0 M935.5,228.8 V267.0 M935.5,270.0 V270.5 M943.5,233.5 V236.0 M943.5,250.0 V252.1 M950.5,241.4 V258.3 M958.5,245.1 V289.6 M966.5,278.0 V286.0 M966.5,289.0 V289.6 M974.5,270.5 V281.0 M974.5,284.0 V286.4 M982.5,253.2 V273.0 M982.5,281.0 V282.7 M989.5,239.5 V249.0 M989.5,262.0 V262.6 M997.5,236.3 V256.9 M1005.5,252.6 V287.4 M1013.5,274.6 V293.6 M1020.5,246.1 V271.0 M1020.5,276.0 V276.5 M1028.5,236.7 V249.0 M1028.5,256.0 V256.9 M1036.5,246.4 V268.6 M1044.5,245.5 V259.0 M1044.5,264.0 V278.5 M1052.5,216.9 V244.0 M1052.5,253.0 V253.2 M1059.5,231.6 V239.0 M1059.5,242.0 V250.8 M1067.5,228.8 V249.8 M1075.5,217.9 V233.0 M1075.5,242.0 V242.3 M1083.5,216.9 V241.9 M1090.5,216.9 V239.1 M1098.5,214.1 V261.6 M1106.5,241.4 V261.1 M1114.5,259.2 V274.2 M1122.5,224.1 V257.0 M1122.5,266.0 V274.6 M1129.5,217.9 V224.0 M1129.5,246.0 V246.1 M1137.5,236.7 V250.8 M1145.5,220.7 V237.0 M1145.5,240.0 V243.8 M1153.5,204.2 V231.4 M1161.5,204.2 V218.0 M1161.5,221.0 V223.5 M1168.5,201.0 V217.5 M1176.5,186.3 V216.9 M1184.5,198.2 V221.3 M1192.5,188.2 V204.0 M1199.5,197.2 V233.8 M1207.5,205.1 V221.0 M1215.5,194.0 V202.0 M1215.5,212.0 V212.3 M1223.5,199.1 V216.9 M1231.5,202.9 V239.1 M1238.5,210.9 V237.0 M1246.5,201.0 V217.0 M1246.5,221.0 V221.3 M1254.5,201.0 V245.1 M1262.5,233.8 V266.7 M1269.5,238.5 V261.6 M1277.5,230.7 V240.0 M1285.5,216.9 V237.0 M1293.5,226.3 V257.9 M1301.5,244.2 V302.4 M1308.5,289.2 V315.5 M1316.5,298.3 V331.1 M1324.5,282.3 V303.0 M1332.5,274.2 V287.0 M1332.5,295.0 V297.7 M1339.5,276.1 V303.0 M1347.5,271.4 V285.0 M1347.5,288.0 V288.7 M1355.5,275.2 V307.7 M1363.5,285.1 V307.7 M1371.5,254.5 V284.0 M1371.5,290.0 V293.4 M1378.5,228.8 V260.0 M1386.5,225.8 V236.0 M1386.5,242.0 V246.1 M1394.5,201.9 V216.0 M1394.5,237.0 V237.4 M1402.5,204.2 V231.4 M1409.5,224.8 V246.8 M1417.5,223.5 V251.1 M1425.5,202.9 V222.0 M1425.5,228.0 V230.5 M1433.5,202.9 V250.8 M1441.5,233.3 V257.1 M1448.5,230.5 V262.0 M1456.5,236.5 V269.9 M1464.5,227.7 V252.0 M1464.5,260.0 V262.0 M1472.5,233.3 V274.0 M1479.5,260.0 V286.8 M1487.5,242.3 V264.0 M1487.5,274.0 V275.9 M1495.5,229.5 V252.1 M1503.5,230.8 V236.0 M1503.5,246.0 V251.1 M1511.5,222.6 V251.1 M1518.5,213.6 V228.0 M1518.5,231.0 V232.7 M1526.5,221.6 V248.3 M1534.5,219.8 V255.8 M1542.5,199.1 V228.6 M1550.5,207.0 V212.0 M1550.5,218.0 V218.6 M1557.5,193.8 V213.6 M1565.5,206.1 V223.5 M1573.5,199.1 V222.6 M1581.5,192.9 V209.0 M1588.5,187.8 V217.7 M1596.5,194.8 V208.0 M1596.5,215.0 V218.6 M1604.5,185.0 V202.0 M1604.5,205.0 V219.6 M1612.5,199.1 V215.8 M1620.5,183.9 V192.0 M1620.5,201.0 V204.2 M1627.5,184.9 V210.2 M1635.5,197.1 V219.2 M1643.5,187.1 V212.0 M1643.5,215.0 V217.4 M1651.5,189.2 V191.0 M1651.5,211.0 V212.5 M1658.5,100.9 V189.0 M1658.5,199.0 V199.9 M1666.5,87.2 V108.0 M1666.5,135.0 V137.0 M1674.5,100.0 V126.0 M1682.5,73.1 V145.4 M1690.5,112.0 V126.0 M1690.5,129.0 V137.0 M1697.5,94.2 V116.0 M1697.5,120.0 V123.3 M1705.5,110.7 V144.1 M1713.5,114.1 V137.0 M1721.5,123.8 V139.8 M1728.5,120.1 V188.6 M1736.5,163.3 V199.5 M1744.5,162.3 V169.0 M1744.5,193.0 V196.5 M1752.5,169.5 V202.3 M1760.5,179.2 V200.5 M1767.5,192.4 V223.4 M1775.5,210.3 V233.3 M1783.5,216.0 V233.3 M1791.5,194.2 V222.0 M1798.5,192.3 V196.0 M1798.5,216.0 V216.4" stroke="#3333ff" stroke-width="1.1" stroke-opacity="0.85" fill="none"/>
<g fill="#3333ff"><rect x="30.0" y="358.0" width="5" height="1.2"/><rect x="38.0" y="358.3" width="5" height="1.7"/><rect x="46.0" y="359.2" width="5" height="6.4"/><rect x="54.0" y="363.3" width="5" height="7.1"/><rect x="69.0" y="365.2" width="5" height="13.1"/><rect x="77.0" y="376.1" width="5" height="1.5"/><rect x="85.0" y="374.2" width="5" height="5.4"/><rect x="108.0" y="367.5" width="5" height="4.9"/><rect x="116.0" y="373.1" width="5" height="1.5"/><rect x="124.0" y="363.7" width="5" height="1.2"/><rect x="132.0" y="365.2" width="5" height="5.6"/><rect x="139.0" y="369.3" width="5" height="1.2"/><rect x="170.0" y="343.6" width="5" height="1.3"/><rect x="186.0" y="314.9" width="5" height="1.2"/><rect x="202.0" y="310.2" width="5" height="13.1"/><rect x="209.0" y="322.6" width="5" height="1.3"/><rect x="217.0" y="311.7" width="5" height="1.2"/><rect x="233.0" y="292.3" width="5" height="6.2"/><rect x="248.0" y="296.1" width="5" height="12.4"/><rect x="256.0" y="307.9" width="5" height="19.3"/><rect x="264.0" y="324.7" width="5" height="1.2"/><rect x="272.0" y="316.3" width="5" height="1.2"/><rect x="279.0" y="312.6" width="5" height="12.8"/><rect x="310.0" y="282.0" width="5" height="1.2"/><rect x="326.0" y="274.1" width="5" height="13.1"/><rect x="334.0" y="286.9" width="5" height="1.7"/><rect x="342.0" y="286.7" width="5" height="1.2"/><rect x="357.0" y="283.1" width="5" height="29.9"/><rect x="381.0" y="275.1" width="5" height="12.2"/><rect x="388.0" y="285.0" width="5" height="3.8"/><rect x="396.0" y="283.1" width="5" height="11.3"/><rect x="404.0" y="305.1" width="5" height="1.5"/><rect x="419.0" y="301.0" width="5" height="2.3"/><rect x="451.0" y="288.2" width="5" height="14.1"/><rect x="458.0" y="301.9" width="5" height="2.3"/><rect x="489.0" y="233.9" width="5" height="15.0"/><rect x="497.0" y="241.8" width="5" height="8.1"/><rect x="505.0" y="250.2" width="5" height="1.2"/><rect x="513.0" y="244.8" width="5" height="7.9"/><rect x="528.0" y="241.0" width="5" height="2.8"/><rect x="536.0" y="231.6" width="5" height="1.5"/><rect x="552.0" y="199.9" width="5" height="1.2"/><rect x="567.0" y="182.3" width="5" height="45.1"/><rect x="575.0" y="225.1" width="5" height="1.5"/><rect x="583.0" y="209.1" width="5" height="20.1"/><rect x="614.0" y="167.2" width="5" height="27.6"/><rect x="622.0" y="193.1" width="5" height="43.2"/><rect x="629.0" y="236.7" width="5" height="3.8"/><rect x="645.0" y="223.9" width="5" height="38.7"/><rect x="668.0" y="237.7" width="5" height="4.7"/><rect x="676.0" y="237.7" width="5" height="36.1"/><rect x="684.0" y="273.3" width="5" height="3.2"/><rect x="707.0" y="268.2" width="5" height="26.1"/><rect x="715.0" y="293.9" width="5" height="9.4"/><rect x="723.0" y="303.0" width="5" height="8.3"/><rect x="731.0" y="297.3" width="5" height="15.8"/><rect x="746.0" y="308.0" width="5" height="1.2"/><rect x="762.0" y="283.2" width="5" height="4.5"/><rect x="770.0" y="272.2" width="5" height="1.5"/><rect x="801.0" y="241.7" width="5" height="4.3"/><rect x="808.0" y="221.4" width="5" height="1.2"/><rect x="824.0" y="195.0" width="5" height="24.2"/><rect x="832.0" y="217.9" width="5" height="21.2"/><rect x="840.0" y="238.5" width="5" height="26.3"/><rect x="847.0" y="266.2" width="5" height="9.6"/><rect x="855.0" y="275.2" width="5" height="9.4"/><rect x="863.0" y="284.2" width="5" height="2.3"/><rect x="871.0" y="282.7" width="5" height="1.9"/><rect x="878.0" y="280.8" width="5" height="6.9"/><rect x="910.0" y="251.3" width="5" height="7.3"/><rect x="917.0" y="258.3" width="5" height="14.6"/><rect x="925.0" y="270.4" width="5" height="1.2"/><rect x="948.0" y="245.7" width="5" height="11.1"/><rect x="956.0" y="251.7" width="5" height="37.6"/><rect x="995.0" y="245.7" width="5" height="8.3"/><rect x="1003.0" y="253.6" width="5" height="32.9"/><rect x="1011.0" y="285.1" width="5" height="4.5"/><rect x="1034.0" y="251.7" width="5" height="11.8"/><rect x="1065.0" y="241.0" width="5" height="3.8"/><rect x="1081.0" y="226.9" width="5" height="9.2"/><rect x="1088.0" y="233.6" width="5" height="1.2"/><rect x="1096.0" y="224.1" width="5" height="29.9"/><rect x="1104.0" y="252.6" width="5" height="8.1"/><rect x="1112.0" y="259.8" width="5" height="13.5"/><rect x="1135.0" y="241.9" width="5" height="6.9"/><rect x="1151.0" y="225.8" width="5" height="1.3"/><rect x="1166.0" y="213.9" width="5" height="1.2"/><rect x="1174.0" y="206.2" width="5" height="10.1"/><rect x="1182.0" y="213.2" width="5" height="7.5"/><rect x="1197.0" y="205.1" width="5" height="28.2"/><rect x="1221.0" y="201.9" width="5" height="12.8"/><rect x="1229.0" y="207.0" width="5" height="29.1"/><rect x="1236.0" y="235.1" width="5" height="1.2"/><rect x="1252.0" y="207.0" width="5" height="37.2"/><rect x="1260.0" y="241.4" width="5" height="10.3"/><rect x="1267.0" y="247.6" width="5" height="11.1"/><rect x="1283.0" y="231.0" width="5" height="1.2"/><rect x="1291.0" y="226.9" width="5" height="29.1"/><rect x="1299.0" y="248.5" width="5" height="53.9"/><rect x="1306.0" y="302.0" width="5" height="7.3"/><rect x="1314.0" y="300.0" width="5" height="28.4"/><rect x="1337.0" y="286.1" width="5" height="16.0"/><rect x="1353.0" y="278.0" width="5" height="24.4"/><rect x="1361.0" y="301.8" width="5" height="1.2"/><rect x="1400.0" y="213.9" width="5" height="16.5"/><rect x="1407.0" y="230.8" width="5" height="15.2"/><rect x="1415.0" y="245.5" width="5" height="1.2"/><rect x="1431.0" y="207.0" width="5" height="41.3"/><rect x="1439.0" y="246.4" width="5" height="3.4"/><rect x="1446.0" y="245.5" width="5" height="11.6"/><rect x="1454.0" y="247.4" width="5" height="13.5"/><rect x="1470.0" y="245.5" width="5" height="28.2"/><rect x="1477.0" y="273.1" width="5" height="12.8"/><rect x="1493.0" y="245.5" width="5" height="1.5"/><rect x="1509.0" y="241.7" width="5" height="7.5"/><rect x="1524.0" y="227.7" width="5" height="19.3"/><rect x="1532.0" y="238.5" width="5" height="12.6"/><rect x="1540.0" y="226.7" width="5" height="1.2"/><rect x="1555.0" y="207.7" width="5" height="1.2"/><rect x="1563.0" y="208.9" width="5" height="8.8"/><rect x="1571.0" y="214.1" width="5" height="3.6"/><rect x="1586.0" y="198.0" width="5" height="17.5"/><rect x="1610.0" y="205.1" width="5" height="10.3"/><rect x="1625.0" y="189.2" width="5" height="19.2"/><rect x="1633.0" y="206.1" width="5" height="10.1"/><rect x="1680.0" y="112.2" width="5" height="30.4"/><rect x="1703.0" y="112.0" width="5" height="26.9"/><rect x="1711.0" y="132.9" width="5" height="1.5"/><rect x="1719.0" y="126.1" width="5" height="7.5"/><rect x="1726.0" y="129.9" width="5" height="58.8"/><rect x="1734.0" y="189.2" width="5" height="10.3"/><rect x="1750.0" y="176.4" width="5" height="20.1"/><rect x="1758.0" y="196.2" width="5" height="4.3"/><rect x="1765.0" y="199.9" width="5" height="21.6"/><rect x="1773.0" y="220.7" width="5" height="1.2"/><rect x="1781.0" y="220.0" width="5" height="10.3"/></g>
<g fill="none" stroke="#3333ff" stroke-width="1"><rect x="7.5" y="370.5" width="4" height="12"/><rect x="15.5" y="378.5" width="4" height="3"/><rect x="23.5" y="370.5" width="4" height="7"/><rect x="62.5" y="364.5" width="4" height="5"/><rect x="93.5" y="364.5" width="4" height="5"/><rect x="100.5" y="365.5" width="4" height="2"/><rect x="147.5" y="357.5" width="4" height="2"/><rect x="155.5" y="344.5" width="4" height="4"/><rect x="163.5" y="339.5" width="4" height="4"/><rect x="178.5" y="324.5" width="4" height="9"/><rect x="194.5" y="297.5" width="4" height="16"/><rect x="225.5" y="290.5" width="4" height="5"/><rect x="240.5" y="290.5" width="4" height="5"/><rect x="287.5" y="321.5" width="4" height="3"/><rect x="295.5" y="315.5" width="4" height="2"/><rect x="303.5" y="294.5" width="4" height="2"/><rect x="318.5" y="275.5" width="4" height="2"/><rect x="349.5" y="275.5" width="4" height="9"/><rect x="365.5" y="301.5" width="4" height="8"/><rect x="373.5" y="278.5" width="4" height="2"/><rect x="412.5" y="300.5" width="4" height="5"/><rect x="427.5" y="300.5" width="4" height="2"/><rect x="435.5" y="297.5" width="4" height="5"/><rect x="443.5" y="288.5" width="4" height="2"/><rect x="466.5" y="275.5" width="4" height="2"/><rect x="474.5" y="254.5" width="4" height="9"/><rect x="482.5" y="240.5" width="4" height="5"/><rect x="521.5" y="238.5" width="4" height="5"/><rect x="544.5" y="195.5" width="4" height="6"/><rect x="559.5" y="194.5" width="4" height="2"/><rect x="591.5" y="220.5" width="4" height="9"/><rect x="598.5" y="189.5" width="4" height="4"/><rect x="606.5" y="184.5" width="4" height="5"/><rect x="637.5" y="224.5" width="4" height="2"/><rect x="653.5" y="240.5" width="4" height="8"/><rect x="661.5" y="204.5" width="4" height="33"/><rect x="692.5" y="265.5" width="4" height="7"/><rect x="699.5" y="250.5" width="4" height="17"/><rect x="738.5" y="308.5" width="4" height="3"/><rect x="754.5" y="284.5" width="4" height="6"/><rect x="777.5" y="264.5" width="4" height="3"/><rect x="785.5" y="248.5" width="4" height="3"/><rect x="793.5" y="242.5" width="4" height="2"/><rect x="816.5" y="219.5" width="4" height="3"/><rect x="886.5" y="284.5" width="4" height="3"/><rect x="894.5" y="246.5" width="4" height="8"/><rect x="902.5" y="251.5" width="4" height="5"/><rect x="933.5" y="267.5" width="4" height="2"/><rect x="941.5" y="236.5" width="4" height="13"/><rect x="964.5" y="286.5" width="4" height="2"/><rect x="972.5" y="281.5" width="4" height="2"/><rect x="980.5" y="273.5" width="4" height="7"/><rect x="987.5" y="249.5" width="4" height="12"/><rect x="1018.5" y="271.5" width="4" height="4"/><rect x="1026.5" y="249.5" width="4" height="6"/><rect x="1042.5" y="259.5" width="4" height="4"/><rect x="1050.5" y="244.5" width="4" height="8"/><rect x="1057.5" y="239.5" width="4" height="2"/><rect x="1073.5" y="233.5" width="4" height="8"/><rect x="1120.5" y="257.5" width="4" height="8"/><rect x="1127.5" y="224.5" width="4" height="21"/><rect x="1143.5" y="237.5" width="4" height="2"/><rect x="1159.5" y="218.5" width="4" height="2"/><rect x="1190.5" y="204.5" width="4" height="2"/><rect x="1205.5" y="221.5" width="4" height="11"/><rect x="1213.5" y="202.5" width="4" height="9"/><rect x="1244.5" y="217.5" width="4" height="3"/><rect x="1275.5" y="240.5" width="4" height="13"/><rect x="1322.5" y="303.5" width="4" height="5"/><rect x="1330.5" y="287.5" width="4" height="7"/><rect x="1345.5" y="285.5" width="4" height="2"/><rect x="1369.5" y="284.5" width="4" height="5"/><rect x="1376.5" y="260.5" width="4" height="2"/><rect x="1384.5" y="236.5" width="4" height="5"/><rect x="1392.5" y="216.5" width="4" height="20"/><rect x="1423.5" y="222.5" width="4" height="5"/><rect x="1462.5" y="252.5" width="4" height="7"/><rect x="1485.5" y="264.5" width="4" height="9"/><rect x="1501.5" y="236.5" width="4" height="9"/><rect x="1516.5" y="228.5" width="4" height="2"/><rect x="1548.5" y="212.5" width="4" height="5"/><rect x="1579.5" y="209.5" width="4" height="4"/><rect x="1594.5" y="208.5" width="4" height="6"/><rect x="1602.5" y="202.5" width="4" height="2"/><rect x="1618.5" y="192.5" width="4" height="8"/><rect x="1641.5" y="212.5" width="4" height="2"/><rect x="1649.5" y="191.5" width="4" height="19"/><rect x="1656.5" y="189.5" width="4" height="9"/><rect x="1664.5" y="108.5" width="4" height="26"/><rect x="1672.5" y="126.5" width="4" height="7"/><rect x="1688.5" y="126.5" width="4" height="2"/><rect x="1695.5" y="116.5" width="4" height="3"/><rect x="1742.5" y="169.5" width="4" height="23"/><rect x="1789.5" y="222.5" width="4" height="4"/><rect x="1796.5" y="196.5" width="4" height="19"/></g>
<path d="M10,491.5 H1855" stroke="#3a3aff" stroke-width="1" stroke-dasharray="5,5" fill="none"/>
<path d="M10,614 H1855" stroke="#3a3aff" stroke-width="1.6" stroke-opacity="0.62" stroke-dasharray="5,5" fill="none"/>
<path d="M10.5,579.6C12.9,579.7 18.4,580.4 24.7,580.1C31.0,579.7 40.4,578.0 48.2,577.7C56.0,577.4 65.1,578.2 71.5,578.4C78.0,578.6 81.9,579.1 87.1,578.9C92.2,578.7 97.4,577.9 102.6,577.2C107.8,576.6 112.9,576.1 118.1,574.9C123.3,573.7 128.5,571.4 133.6,570.2C138.8,569.0 144.0,569.4 149.2,567.6C154.4,565.8 160.8,561.4 164.7,559.6C168.6,557.7 168.6,558.7 172.5,556.5C176.4,554.4 184.1,549.0 188.0,546.6C191.9,544.3 191.9,544.0 195.8,542.4C199.6,540.8 206.1,538.6 211.3,537.0C216.5,535.4 221.6,534.1 226.8,532.5C232.0,531.0 238.5,528.8 242.4,527.8C246.2,526.8 246.2,526.9 250.1,526.6C254.0,526.4 260.5,526.8 265.6,526.4C270.8,526.0 275.5,524.8 281.2,524.3C286.9,523.7 296.1,523.6 300.0,523.1C303.9,522.6 301.4,522.2 304.8,521.2C308.3,520.3 315.4,518.2 320.6,517.2C325.8,516.3 332.2,515.7 336.1,515.4C340.0,515.0 341.3,514.8 343.9,514.9C346.5,515.0 349.1,515.2 351.6,515.8C354.2,516.5 355.5,517.8 359.4,518.9C363.3,520.0 369.8,521.0 374.9,522.4C380.1,523.8 385.3,525.7 390.5,527.1C395.6,528.5 400.8,529.2 406.0,530.6C411.2,532.1 416.4,534.5 421.5,536.1C426.7,537.6 431.8,539.3 437.1,540.1C442.3,540.8 448.9,540.6 452.8,540.8C456.7,540.9 456.7,541.3 460.6,540.8C464.5,540.3 470.9,538.7 476.1,537.7C481.3,536.7 486.5,535.1 491.6,534.6C496.8,534.2 503.3,534.7 507.2,534.9C511.1,535.1 511.1,535.8 514.9,535.8C518.8,535.8 525.3,535.5 530.5,534.9C535.6,534.3 540.8,533.8 546.0,532.3C551.2,530.8 556.4,527.0 561.5,525.9C566.7,524.9 572.1,526.0 577.1,525.9C582.0,525.9 586.2,526.4 591.4,525.5C596.5,524.6 604.1,521.6 608.2,520.5C612.3,519.4 612.1,519.0 616.0,518.9C619.9,518.8 626.4,519.5 631.5,520.1C636.7,520.6 643.2,521.7 647.1,521.9C650.9,522.2 650.9,521.1 654.8,521.7C658.7,522.3 665.4,523.7 670.6,525.5C675.8,527.3 680.9,530.5 686.1,532.5C691.3,534.6 696.5,535.7 701.6,537.7C706.8,539.7 712.0,542.2 717.2,544.8C722.4,547.3 727.5,550.1 732.7,553.0C737.9,555.9 744.4,560.0 748.2,561.9C752.1,563.9 753.4,564.1 756.0,564.8C758.6,565.4 759.8,565.8 763.8,565.9C767.7,566.1 774.3,565.7 779.5,565.5C784.7,565.3 791.2,564.8 795.1,564.8C798.9,564.7 800.2,565.4 802.8,565.2C805.4,565.1 806.7,565.1 810.6,564.1C814.5,563.0 820.9,560.1 826.1,558.9C831.3,557.7 836.5,557.0 841.6,557.0C846.8,557.0 853.3,558.5 857.2,558.9C861.1,559.3 861.1,559.4 864.9,559.6C868.8,559.7 876.4,559.9 880.3,559.8C884.2,559.8 885.7,559.7 888.4,559.4C891.0,559.0 892.2,558.8 896.1,557.7C900.0,556.6 906.5,554.0 911.6,552.5C916.8,551.0 922.0,550.1 927.2,548.8C932.4,547.4 939.0,545.1 942.9,544.3C946.9,543.5 948.1,544.0 950.7,544.1C953.3,544.1 954.6,544.2 958.5,544.8C962.4,545.4 968.8,546.5 974.0,547.6C979.2,548.6 984.4,549.8 989.5,551.1C994.7,552.4 1001.2,554.1 1005.1,555.4C1008.9,556.6 1010.2,558.1 1012.8,558.9C1015.4,559.7 1016.7,560.1 1020.6,560.1C1024.5,560.1 1030.9,559.8 1036.1,558.9C1041.3,558.0 1046.4,556.1 1051.6,554.6C1056.9,553.2 1062.2,551.5 1067.4,549.9C1072.6,548.4 1079.1,546.3 1082.9,545.5C1086.8,544.7 1086.8,545.0 1090.7,545.2C1094.6,545.5 1102.4,546.7 1106.2,547.1C1110.1,547.5 1110.1,547.8 1114.0,547.8C1117.9,547.8 1124.4,547.2 1129.5,547.1C1134.7,547.1 1139.9,548.4 1145.1,547.6C1150.2,546.8 1156.4,543.8 1160.6,542.4C1164.7,541.0 1167.4,540.1 1170.0,539.4C1172.6,538.6 1172.6,538.2 1176.2,537.7C1179.9,537.2 1186.6,537.1 1191.8,536.5C1196.9,535.9 1203.4,534.7 1207.3,534.2C1211.2,533.7 1211.2,533.4 1215.1,533.5C1218.9,533.6 1225.4,534.4 1230.6,534.9C1235.8,535.4 1241.1,535.7 1246.4,536.5C1251.6,537.4 1256.7,539.0 1261.9,540.1C1267.1,541.2 1272.2,542.3 1277.4,543.1C1282.6,544.0 1287.8,544.5 1292.9,545.2C1298.1,546.0 1303.3,546.6 1308.5,547.6C1313.6,548.6 1318.8,550.3 1324.0,551.4C1329.2,552.5 1334.3,553.0 1339.5,554.2C1344.7,555.4 1351.4,557.3 1355.3,558.4C1359.2,559.5 1360.5,560.2 1363.1,560.8C1365.6,561.4 1366.9,561.6 1370.8,561.9C1374.7,562.3 1381.2,563.1 1386.4,562.9C1391.5,562.7 1396.7,561.0 1401.9,560.8C1407.1,560.5 1413.5,561.4 1417.4,561.2C1421.3,561.1 1422.6,560.5 1425.2,560.1C1427.8,559.7 1429.1,559.1 1432.9,558.9C1436.8,558.7 1444.0,559.1 1448.5,558.9C1453.0,558.7 1457.4,558.1 1460.0,557.7C1462.6,557.3 1460.8,556.3 1464.1,556.5C1467.4,556.7 1475.8,558.6 1479.6,558.9C1483.5,559.2 1483.5,559.5 1487.4,558.4C1491.3,557.4 1497.8,554.3 1502.9,552.5C1508.1,550.8 1513.3,548.9 1518.5,547.8C1523.7,546.7 1529.0,546.9 1534.2,545.9C1539.5,545.0 1545.9,542.9 1549.8,541.9C1553.6,541.0 1553.6,540.6 1557.5,540.1C1561.4,539.5 1567.9,539.0 1573.1,538.9C1578.2,538.8 1584.7,539.4 1588.6,539.6C1592.5,539.8 1593.8,540.2 1596.4,540.1C1598.9,539.9 1600.2,539.2 1604.1,538.9C1608.0,538.6 1614.5,538.5 1619.6,538.4C1624.8,538.3 1630.0,538.5 1635.2,538.2C1640.4,537.9 1646.8,537.0 1650.7,536.5C1654.6,536.1 1654.8,536.7 1658.7,535.4C1662.6,534.0 1669.1,530.2 1674.2,528.3C1679.4,526.4 1685.9,525.1 1689.8,524.1C1693.6,523.0 1693.7,522.6 1697.5,521.9C1701.3,521.2 1708.8,520.3 1712.6,519.9C1716.4,519.5 1717.9,519.4 1720.5,519.6C1723.1,519.9 1724.3,520.3 1728.2,521.3C1732.2,522.3 1740.4,524.6 1744.0,525.6C1747.6,526.7 1747.4,526.8 1750.0,527.6C1752.6,528.4 1755.2,529.2 1759.4,530.6C1763.5,532.1 1769.8,534.4 1775.0,536.3C1780.2,538.2 1786.4,540.8 1790.3,542.3C1794.2,543.7 1797.0,544.5 1798.4,545.0" fill="none" stroke="#808080" stroke-width="2" stroke-opacity="0.9"/>
<polyline points="10.5,594.2 17.0,595.4 24.8,590.6 32.6,584.8 40.4,578.2 48.2,571.8 55.9,571.1 63.7,569.9 71.5,567.6 79.3,564.8 87.1,564.8 94.8,560.1 102.6,555.4 110.4,553.5 118.2,552.5 126.0,549.0 133.7,550.2 141.5,551.8 149.3,551.1 157.1,547.6 164.9,542.4 172.6,538.2 180.4,529.5 188.2,521.2 196.0,513.7 203.8,512.3 211.5,511.4 219.3,506.6 227.1,501.2 234.9,498.4 242.7,494.2 250.4,493.7 258.2,499.6 266.0,505.9 273.8,510.6 281.6,515.4 289.3,521.9 297.1,526.9 304.9,529.5 312.7,527.8 320.5,525.2 328.2,527.1 336.0,530.6 343.8,533.0 351.6,534.9 359.4,538.4 367.1,536.5 374.9,532.5 382.7,531.8 390.5,529.5 398.3,529.9 406.0,533.0 413.8,537.2 421.6,543.1 429.4,549.0 437.2,551.4 444.9,551.4 452.7,554.6 460.5,557.7 468.3,551.8 476.1,547.6 483.8,544.3 491.6,541.2 499.4,538.9 507.2,535.4 515.0,531.4 522.7,527.1 530.5,522.4 538.3,516.5 546.1,510.6 553.9,506.4 561.6,499.4 569.4,497.7 577.2,500.8 585.0,505.7 592.8,509.5 600.5,509.5 608.3,508.3 616.1,509.0 623.9,514.2 631.7,520.1 639.4,524.8 647.2,531.8 655.0,538.4 662.8,544.8 670.6,552.5 678.3,555.8 686.1,559.4 693.9,561.7 701.7,564.8 709.5,571.8 717.2,580.1 725.0,587.6 732.8,590.2 740.6,592.5 748.4,594.9 756.1,591.1 763.9,589.0 771.7,585.9 779.5,581.2 787.3,574.2 795.0,566.6 802.8,559.4 810.6,551.8 818.4,541.9 826.2,530.6 833.9,525.5 841.7,522.9 849.5,521.7 857.3,522.4 865.1,528.3 872.8,531.8 880.6,538.4 888.4,544.1 896.2,545.9 904.0,547.8 911.7,550.6 919.5,557.7 927.3,564.1 935.1,569.5 942.9,567.1 950.6,564.1 958.4,563.1 966.2,561.7 974.0,559.6 981.8,557.7 989.5,551.8 997.3,547.1 1005.1,551.4 1012.9,555.8 1020.7,556.5 1028.4,553.7 1036.2,552.5 1044.0,551.4 1051.8,551.1 1059.6,549.0 1067.3,544.1 1075.1,538.9 1082.9,534.6 1090.7,529.9 1098.5,534.6 1106.2,538.9 1114.0,540.5 1121.8,538.9 1129.6,538.2 1137.4,538.9 1145.1,537.2 1152.9,535.8 1160.7,534.6 1168.5,533.5 1176.3,531.8 1184.0,533.0 1191.8,531.4 1199.6,535.4 1207.4,534.2 1215.2,529.5 1222.9,524.3 1230.7,525.9 1238.5,528.3 1246.3,528.3 1254.1,531.8 1261.8,537.7 1269.6,545.5 1277.4,549.9 1285.2,553.0 1293.0,557.7 1300.7,564.8 1308.5,568.3 1316.3,573.7 1324.1,578.9 1331.9,580.5 1339.6,580.5 1347.4,578.4 1355.2,580.8 1363.0,580.1 1370.8,576.5 1378.5,570.6 1386.3,566.6 1394.1,562.4 1401.9,557.7 1409.7,552.5 1417.4,547.1 1425.2,539.4 1433.0,536.5 1440.8,535.8 1448.6,535.4 1456.3,537.4 1464.1,535.8 1471.9,537.2 1479.7,541.2 1487.5,545.9 1495.2,548.3 1503.0,551.4 1510.8,552.5 1518.6,550.6 1526.4,551.4 1534.1,554.2 1541.9,551.4 1549.7,548.3 1557.5,543.6 1565.3,540.1 1573.0,537.2 1580.8,531.4 1588.6,526.4 1596.4,523.1 1604.2,521.2 1611.9,522.4 1619.7,520.5 1627.5,522.4 1635.3,523.1 1643.1,523.1 1650.8,525.5 1658.6,525.5 1666.4,523.6 1674.2,520.5 1682.0,518.9 1689.7,517.0 1697.5,514.2 1705.3,515.4 1713.1,516.5 1720.9,515.3 1728.6,521.9 1736.4,526.5 1744.2,529.3 1752.0,532.7 1759.8,536.3 1767.5,543.5 1775.3,554.8 1783.1,564.5 1790.9,571.8 1798.7,577.7" fill="none" stroke="#2e8b6a" stroke-width="2" stroke-opacity="0.95" stroke-linejoin="round" />
<polyline points="10.5,579.4 17.0,578.4 24.8,560.1 32.6,541.7 40.4,544.1 48.2,553.0 55.9,561.2 63.7,560.1 71.5,574.9 79.3,573.5 87.1,577.2 94.8,549.5 102.6,548.8 110.4,557.7 118.2,562.9 126.0,538.2 133.7,554.2 141.5,549.5 149.3,525.9 157.1,504.1 164.9,502.9 172.6,509.9 180.4,488.8 188.2,482.4 196.0,481.2 203.8,509.5 211.5,513.5 219.3,500.1 227.1,487.1 234.9,493.0 242.7,491.1 250.4,525.9 258.2,561.9 266.0,558.9 273.8,544.8 281.6,557.2 289.3,547.8 297.1,543.4 304.9,511.8 312.7,501.2 320.5,497.0 328.2,520.1 336.0,523.6 343.8,521.7 351.6,518.2 359.4,573.5 367.1,550.6 374.9,527.1 382.7,538.4 390.5,539.6 398.3,550.6 406.0,567.6 413.8,557.7 421.6,561.9 429.4,560.1 437.2,547.1 444.9,532.3 452.7,560.1 460.5,563.6 468.3,520.1 476.1,509.5 483.8,493.7 491.6,509.5 499.4,511.4 507.2,515.4 515.0,518.2 522.7,508.3 530.5,508.8 538.3,496.1 546.1,479.4 553.9,478.9 561.6,476.5 569.4,540.1 577.2,537.2 585.0,543.6 592.8,530.6 600.5,507.1 608.3,501.2 616.1,522.4 623.9,567.8 631.7,570.6 639.4,553.0 647.2,582.9 655.0,561.2 662.8,559.4 670.6,562.4 678.3,585.9 686.1,587.6 693.9,584.3 701.7,576.5 709.5,595.4 717.2,600.5 725.0,605.5 732.8,606.4 740.6,604.1 748.4,595.4 756.1,553.0 763.9,557.7 771.7,537.7 779.5,531.8 787.3,513.0 795.0,509.9 802.8,513.0 810.6,495.4 818.4,493.5 826.2,493.7 833.9,536.5 841.7,568.3 849.5,578.9 857.3,587.1 865.1,588.3 872.8,583.0 880.6,587.6 888.4,576.5 896.2,532.5 904.0,528.8 911.7,542.4 919.5,562.4 927.3,559.6 935.1,553.7 942.9,527.8 950.6,538.9 958.4,581.7 966.2,577.0 974.0,571.8 981.8,567.8 989.5,526.4 997.3,532.5 1005.1,570.6 1012.9,573.5 1020.7,551.4 1028.4,534.6 1036.2,545.9 1044.0,539.6 1051.8,524.8 1059.6,521.7 1067.3,530.6 1075.1,518.2 1082.9,523.6 1090.7,521.7 1098.5,555.4 1106.2,565.9 1114.0,580.8 1121.8,555.4 1129.6,540.5 1137.4,545.5 1145.1,530.6 1152.9,518.2 1160.7,512.5 1168.5,507.6 1176.3,513.0 1184.0,523.1 1191.8,507.1 1199.6,553.7 1207.4,540.1 1215.2,520.8 1222.9,540.1 1230.7,563.1 1238.5,564.1 1246.3,541.2 1254.1,568.3 1261.8,574.6 1269.6,581.2 1277.4,556.5 1285.2,548.3 1293.0,572.3 1300.7,599.6 1308.5,602.4 1316.3,609.9 1324.1,585.9 1331.9,571.8 1339.6,575.8 1347.4,559.4 1355.2,573.5 1363.0,572.5 1370.8,553.0 1378.5,529.9 1386.3,517.7 1394.1,505.5 1401.9,521.7 1409.7,538.2 1417.4,538.4 1425.2,520.8 1433.0,547.1 1440.8,548.8 1448.6,555.4 1456.3,560.1 1464.1,549.5 1471.9,572.3 1479.7,582.4 1487.5,563.1 1495.2,538.4 1503.0,537.2 1510.8,541.2 1518.6,523.1 1526.4,545.9 1534.1,549.9 1541.9,527.1 1549.7,518.9 1557.5,513.5 1565.3,524.8 1573.0,525.2 1580.8,520.8 1588.6,524.8 1596.4,523.1 1604.2,511.8 1611.9,536.5 1619.7,509.9 1627.5,538.2 1635.3,549.9 1643.1,544.8 1650.8,541.9 1658.6,516.1 1666.4,485.9 1674.2,485.5 1682.0,501.9 1689.7,494.9 1697.5,489.5 1705.3,522.4 1713.1,519.5 1720.9,520.1 1728.6,576.0 1736.4,582.8 1744.2,576.0 1752.0,578.2 1759.8,581.9 1767.5,596.8 1775.3,596.0 1783.1,602.1 1790.9,592.7 1798.7,574.5" fill="none" stroke="#ff33ff" stroke-width="1.3" stroke-opacity="0.7" stroke-linejoin="round" />
<polyline points="10.5,571.8 17.0,568.3 24.8,540.1 32.6,517.0 40.4,521.9 48.2,541.2 55.9,557.2 63.7,554.9 71.5,581.7 79.3,579.4 87.1,585.5 94.8,535.4 102.6,534.6 110.4,553.0 118.2,563.1 126.0,521.7 133.7,550.6 141.5,543.6 149.3,511.8 157.1,485.9 164.9,484.8 172.6,496.5 180.4,473.5 188.2,468.8 196.0,467.8 203.8,511.8 211.5,517.7 219.3,497.7 227.1,480.1 234.9,489.0 242.7,486.6 250.4,538.9 258.2,583.1 266.0,577.7 273.8,553.5 281.6,570.6 289.3,554.2 297.1,547.1 304.9,501.2 312.7,488.8 320.5,484.1 328.2,521.2 336.0,525.5 343.8,521.9 351.6,517.7 359.4,593.7 367.1,560.1 374.9,524.1 382.7,540.1 390.5,542.4 398.3,557.7 406.0,581.7 413.8,564.8 421.6,571.4 429.4,568.3 437.2,548.3 444.9,520.5 452.7,565.9 460.5,571.4 468.3,508.3 476.1,496.5 483.8,480.1 491.6,503.1 499.4,506.4 507.2,513.0 515.0,517.7 522.7,501.7 530.5,502.4 538.3,485.9 546.1,467.1 553.9,466.6 561.6,465.2 569.4,554.6 577.2,550.6 585.0,560.1 592.8,536.5 600.5,501.9 608.3,494.2 616.1,524.8 623.9,583.6 631.7,587.1 639.4,558.9 647.2,595.8 655.0,563.6 662.8,561.2 670.6,565.9 678.3,597.7 686.1,599.4 693.9,594.9 701.7,580.1 709.5,607.1 717.2,614.2 725.0,619.6 732.8,620.8 740.6,617.0 748.4,595.4 756.1,531.8 763.9,541.2 771.7,514.9 779.5,508.3 787.3,488.3 795.0,485.5 802.8,490.6 810.6,474.2 818.4,472.3 826.2,473.5 833.9,541.2 841.7,585.9 849.5,597.7 857.3,606.6 865.1,607.8 872.8,599.1 880.6,604.8 888.4,583.6 896.2,517.0 904.0,511.8 911.7,535.4 919.5,566.4 927.3,561.2 935.1,552.5 942.9,514.6 950.6,534.6 958.4,593.5 966.2,585.9 974.0,577.7 981.8,571.1 989.5,511.8 997.3,522.4 1005.1,577.7 1012.9,581.2 1020.7,548.3 1028.4,525.9 1036.2,542.4 1044.0,534.2 1051.8,513.0 1059.6,509.0 1067.3,524.3 1075.1,506.6 1082.9,516.5 1090.7,513.0 1098.5,570.2 1106.2,582.9 1114.0,601.2 1121.8,556.5 1129.6,536.5 1137.4,543.6 1145.1,522.4 1152.9,505.2 1160.7,497.7 1168.5,492.3 1176.3,501.2 1184.0,520.1 1191.8,495.8 1199.6,566.4 1207.4,545.5 1215.2,516.5 1222.9,542.9 1230.7,574.9 1238.5,576.1 1246.3,540.1 1254.1,577.7 1261.8,585.9 1269.6,593.5 1277.4,555.4 1285.2,542.4 1293.0,578.2 1300.7,611.1 1308.5,614.6 1316.3,622.9 1324.1,584.8 1331.9,565.2 1339.6,573.5 1347.4,547.8 1355.2,570.6 1363.0,569.5 1370.8,543.6 1378.5,510.6 1386.3,497.7 1394.1,484.8 1401.9,511.8 1409.7,538.2 1417.4,538.2 1425.2,511.8 1433.0,552.3 1440.8,555.4 1448.6,565.9 1456.3,571.8 1464.1,551.8 1471.9,586.4 1479.7,600.1 1487.5,567.6 1495.2,529.0 1503.0,527.8 1510.8,535.4 1518.6,509.0 1526.4,546.6 1534.1,553.0 1541.9,517.7 1549.7,507.6 1557.5,500.1 1565.3,520.8 1573.0,521.2 1580.8,514.2 1588.6,521.9 1596.4,520.1 1604.2,499.4 1611.9,544.8 1619.7,502.9 1627.5,543.6 1635.3,560.5 1643.1,551.8 1650.8,547.6 1658.6,507.1 1666.4,474.6 1674.2,474.6 1682.0,498.9 1689.7,488.8 1697.5,482.4 1705.3,531.1 1713.1,524.5 1720.9,525.9 1728.6,596.9 1736.4,604.0 1744.2,592.3 1752.0,595.2 1759.8,599.5 1767.5,616.9 1775.3,614.5 1783.1,622.1 1790.9,604.8 1798.7,572.1" fill="none" stroke="#4444ff" stroke-width="1.3" stroke-opacity="0.5" stroke-linejoin="round" />
<path d="M10,677.4 H1855" stroke="#3a3aff" stroke-width="1.1" stroke-dasharray="5,5" fill="none"/>
<path d="M10,798.2 H1855" stroke="#3a3aff" stroke-width="1.6" stroke-opacity="0.62" stroke-dasharray="5,5" fill="none"/>
<polyline points="10.5,782.2 17.0,767.8 24.8,752.7 32.6,735.8 40.4,721.9 48.2,712.8 55.9,720.9 63.7,744.6 71.5,775.5 79.3,798.0 87.1,804.9 94.8,791.5 102.6,764.3 110.4,736.0 118.2,723.3 126.0,722.6 133.7,731.8 141.5,739.3 149.3,747.6 157.1,744.1 164.9,730.7 172.6,714.9 180.4,706.8 188.2,707.0 196.0,707.9 203.8,712.6 211.5,716.1 219.3,717.5 227.1,706.8 234.9,695.2 242.7,686.6 250.4,699.8 258.2,730.0 266.0,774.3 273.8,801.9 281.6,811.4 289.3,799.8 297.1,790.8 304.9,773.1 312.7,752.7 320.5,724.9 328.2,704.0 336.0,692.4 343.8,690.1 351.6,690.1 359.4,694.7 367.1,708.2 374.9,721.9 382.7,729.1 390.5,723.3 398.3,724.2 406.0,738.1 413.8,764.3 421.6,786.8 429.4,795.2 437.2,791.0 444.9,772.5 452.7,755.7 460.5,752.7 468.3,763.6 476.1,763.6 483.8,742.3 491.6,718.6 499.4,710.5 507.2,724.2 515.0,748.1 522.7,767.3 530.5,774.3 538.3,766.6 546.1,753.4 553.9,737.2 561.6,719.1 569.4,718.4 577.2,736.0 585.0,775.4 592.8,800.3 600.5,801.0 608.3,774.8 616.1,743.4 623.9,739.3 631.7,760.2 639.4,793.3 647.2,811.9 655.0,809.1 662.8,795.7 670.6,775.5 678.3,771.3 686.1,779.4 693.9,800.3 701.7,807.7 709.5,808.9 717.2,806.6 725.0,815.4 732.8,823.0 740.6,827.0 748.4,820.7 756.1,798.0 763.9,770.1 771.7,737.2 779.5,720.2 787.3,705.9 795.0,696.6 802.8,687.8 810.6,686.1 818.4,692.4 826.2,700.1 833.9,722.6 841.7,751.6 849.5,789.2 857.3,814.9 865.1,827.0 872.8,824.2 880.6,816.5 888.4,804.9 896.2,784.1 904.0,754.6 911.7,722.6 919.5,713.3 927.3,728.4 935.1,761.3 942.9,779.9 950.6,777.8 958.4,770.6 966.2,778.9 974.0,799.1 981.8,813.7 989.5,800.3 997.3,767.3 1005.1,741.8 1012.9,748.1 1020.7,773.6 1028.4,781.7 1036.2,764.3 1044.0,735.3 1051.8,722.6 1059.6,717.5 1067.3,718.6 1075.1,713.3 1082.9,714.0 1090.7,714.9 1098.5,731.4 1106.2,754.4 1114.0,787.5 1121.8,805.6 1129.6,804.2 1137.4,780.6 1145.1,754.4 1152.9,733.7 1160.7,716.3 1168.5,704.7 1176.3,703.3 1184.0,715.1 1191.8,735.3 1199.6,760.2 1207.4,775.2 1215.2,778.7 1222.9,763.6 1230.7,754.4 1238.5,763.6 1246.3,780.6 1254.1,794.0 1261.8,790.5 1269.6,796.3 1277.4,792.6 1285.2,785.9 1293.0,769.4 1300.7,769.7 1308.5,787.5 1316.3,811.2 1324.1,820.5 1331.9,811.2 1339.6,785.9 1347.4,755.0 1355.2,738.1 1363.0,739.3 1370.8,760.2 1378.5,766.0 1386.3,750.4 1394.1,717.2 1401.9,692.4 1409.7,693.1 1417.4,719.5 1425.2,750.4 1433.0,773.6 1440.8,779.9 1448.6,794.5 1456.3,803.4 1464.1,809.1 1471.9,807.3 1479.7,809.6 1487.5,814.9 1495.2,803.8 1503.0,774.8 1510.8,734.9 1518.6,711.0 1526.4,714.9 1534.1,737.2 1541.9,764.3 1549.7,766.6 1557.5,745.3 1565.3,716.3 1573.0,708.2 1580.8,721.4 1588.6,746.2 1596.4,765.5 1604.2,772.9 1611.9,774.3 1619.7,763.6 1627.5,758.1 1635.3,751.6 1643.1,766.2 1650.8,780.6 1658.6,791.5 1666.4,780.6 1674.2,759.7 1682.0,736.5 1689.7,724.4 1697.5,725.6 1705.3,741.1 1713.1,762.7 1720.9,784.7 1728.6,800.3 1736.4,811.2 1744.2,820.6 1752.0,825.3 1759.8,827.2 1767.5,825.3 1775.3,823.3 1783.1,821.0 1790.9,815.3 1798.7,806.7" fill="none" stroke="#ff33ff" stroke-width="1.3" stroke-opacity="0.7" stroke-linejoin="round" />
<polyline points="10.5,772.5 17.0,749.7 24.8,738.8 32.6,718.4 40.4,708.6 48.2,711.0 55.9,743.4 63.7,778.7 71.5,803.8 79.3,811.2 87.1,798.4 94.8,764.3 102.6,730.2 110.4,713.7 118.2,726.0 126.0,727.7 133.7,740.4 141.5,748.8 149.3,753.4 157.1,730.0 164.9,708.6 172.6,705.2 180.4,706.8 188.2,709.3 196.0,707.9 203.8,720.9 211.5,719.1 219.3,712.6 227.1,688.5 234.9,684.7 242.7,685.4 250.4,728.4 258.2,774.8 266.0,819.3 273.8,810.7 281.6,804.9 289.3,784.7 297.1,783.5 304.9,751.6 312.7,724.9 320.5,697.5 328.2,689.4 336.0,690.8 343.8,691.2 351.6,689.6 359.4,704.0 367.1,729.5 374.9,731.8 382.7,726.7 390.5,711.7 398.3,735.3 406.0,768.3 413.8,789.9 421.6,802.6 429.4,792.9 437.2,778.3 444.9,744.6 452.7,745.1 460.5,769.0 468.3,776.6 476.1,743.4 483.8,707.5 491.6,704.5 499.4,719.5 507.2,748.8 515.0,777.6 522.7,777.1 530.5,769.0 538.3,753.4 546.1,737.2 553.9,720.7 561.6,699.4 569.4,733.7 577.2,769.0 585.0,816.1 592.8,812.4 600.5,773.6 608.3,737.2 616.1,719.5 623.9,759.7 631.7,800.8 639.4,818.9 647.2,816.1 655.0,792.6 662.8,777.6 670.6,756.2 678.3,779.9 686.1,801.9 693.9,818.4 701.7,802.1 709.5,805.6 717.2,811.4 725.0,828.1 732.8,828.1 740.6,824.7 748.4,809.1 756.1,764.3 763.9,737.2 771.7,709.8 779.5,714.4 787.3,692.4 795.0,683.1 802.8,687.8 810.6,687.3 818.4,702.8 826.2,710.5 833.9,754.6 841.7,789.9 849.5,823.5 857.3,831.2 865.1,826.5 872.8,814.9 880.6,806.6 888.4,793.3 896.2,751.6 904.0,718.4 911.7,695.2 919.5,724.9 927.3,765.5 935.1,794.5 942.9,778.7 950.6,760.4 958.4,772.0 966.2,803.8 974.0,824.2 981.8,813.1 989.5,764.3 997.3,726.5 1005.1,735.8 1012.9,782.9 1020.7,802.1 1028.4,759.0 1036.2,731.4 1044.0,715.6 1051.8,722.6 1059.6,714.4 1067.3,718.6 1075.1,707.5 1082.9,717.9 1090.7,720.2 1098.5,755.0 1106.2,786.8 1114.0,819.3 1121.8,810.7 1129.6,778.3 1137.4,752.7 1145.1,731.2 1152.9,716.8 1160.7,702.1 1168.5,696.3 1176.3,711.0 1184.0,738.1 1191.8,756.7 1199.6,785.2 1207.4,783.6 1215.2,766.6 1222.9,740.7 1230.7,754.6 1238.5,795.2 1246.3,792.2 1254.1,795.0 1261.8,784.7 1269.6,808.9 1277.4,784.1 1285.2,764.8 1293.0,758.5 1300.7,786.8 1308.5,817.0 1316.3,829.8 1324.1,813.5 1331.9,789.2 1339.6,754.6 1347.4,720.7 1355.2,737.0 1363.0,759.7 1370.8,783.4 1378.5,753.4 1386.3,713.3 1394.1,685.0 1401.9,679.2 1409.7,714.9 1417.4,764.3 1425.2,772.0 1433.0,785.2 1440.8,782.4 1448.6,815.4 1456.3,810.2 1464.1,802.6 1471.9,808.4 1479.7,817.2 1487.5,819.5 1495.2,769.7 1503.0,727.2 1510.8,704.5 1518.6,700.1 1526.4,738.3 1534.1,769.4 1541.9,784.5 1549.7,744.6 1557.5,706.3 1565.3,697.5 1573.0,720.2 1580.8,746.2 1588.6,772.0 1596.4,777.6 1604.2,769.4 1611.9,777.1 1619.7,744.1 1627.5,753.9 1635.3,755.7 1643.1,791.0 1650.8,796.3 1658.6,787.1 1666.4,758.1 1674.2,733.0 1682.0,717.2 1689.7,722.1 1697.5,737.6 1705.3,764.3 1713.1,789.2 1720.9,801.9 1728.6,809.1 1736.4,821.2 1744.2,830.5 1752.0,825.3 1759.8,824.2 1767.5,826.5 1775.3,819.1 1783.1,816.9 1790.9,809.9 1798.7,792.9" fill="none" stroke="#4444ff" stroke-width="1.3" stroke-opacity="0.5" stroke-linejoin="round" />
</g>
<path d="M1855.1,10 V874" stroke="#666666" stroke-width="2" fill="none"/>
<path d="M10,432.9 H1906" stroke="#3c3c3c" stroke-width="1.1" fill="none"/>
<path d="M10,645.5 H1906" stroke="#3c3c3c" stroke-width="1.1" fill="none"/>
<path d="M10,853.4 H1906" stroke="#1c1c1c" stroke-width="1.3" fill="none"/>
<g font-size="7.9" fill="#5e5e5e"><text x="1859.6" y="429.0">60.00</text><text x="1859.6" y="399.0">64.00</text><text x="1859.6" y="369.0">68.00</text><text x="1859.6" y="339.0">72.00</text><text x="1859.6" y="309.0">76.00</text><text x="1859.6" y="279.0">80.00</text><text x="1859.6" y="249.0">84.00</text><text x="1859.6" y="220.0">88.00</text><text x="1859.6" y="190.0">92.00</text><text x="1859.6" y="160.0">96.00</text><text x="1859.6" y="130.0">100.00</text><text x="1859.6" y="100.0">104.00</text><text x="1859.6" y="70.0">108.00</text><text x="1859.6" y="40.0">112.00</text><text x="1859.6" y="637.0">10.0000</text><text x="1859.6" y="617.0">20.0000</text><text x="1859.6" y="596.0">30.0000</text><text x="1859.6" y="576.0">40.0000</text><text x="1859.6" y="555.0">50.0000</text><text x="1859.6" y="535.0">60.0000</text><text x="1859.6" y="514.0">70.0000</text><text x="1859.6" y="494.0">80.0000</text><text x="1859.6" y="474.0">90.0000</text><text x="1859.6" y="453.0">100.0000</text><text x="1859.6" y="840.0">0.000</text><text x="1859.6" y="820.0">10.000</text><text x="1859.6" y="800.0">20.000</text><text x="1859.6" y="780.0">30.000</text><text x="1859.6" y="760.0">40.000</text><text x="1859.6" y="740.0">50.000</text><text x="1859.6" y="720.0">60.000</text><text x="1859.6" y="700.0">70.000</text><text x="1859.6" y="680.0">80.000</text><text x="1859.6" y="660.0">90.000</text></g>
<g font-size="7.8" fill="#5e5e5e"><text x="71.5" y="867" text-anchor="middle">May</text><text x="142.0" y="867" text-anchor="middle">Jul</text><text x="212.4" y="867" text-anchor="middle">Sep</text><text x="274.5" y="867" text-anchor="middle">Nov</text><text x="344.0" y="867" text-anchor="middle" font-weight="bold" fill="#222">2022</text><text x="414.2" y="867" text-anchor="middle">Mar</text><text x="476.6" y="867" text-anchor="middle">May</text><text x="546.8" y="867" text-anchor="middle">Jul</text><text x="616.2" y="867" text-anchor="middle">Sep</text><text x="686.5" y="867" text-anchor="middle">Nov</text><text x="748.6" y="867" text-anchor="middle" font-weight="bold" fill="#222">2023</text><text x="819.0" y="867" text-anchor="middle">Mar</text><text x="881.0" y="867" text-anchor="middle">May</text><text x="950.7" y="867" text-anchor="middle">Jul</text><text x="1020.8" y="867" text-anchor="middle">Sep</text><text x="1091.0" y="867" text-anchor="middle">Nov</text><text x="1153.4" y="867" text-anchor="middle" font-weight="bold" fill="#222">2024</text><text x="1222.6" y="867" text-anchor="middle">Mar</text><text x="1293.4" y="867" text-anchor="middle">May</text><text x="1355.5" y="867" text-anchor="middle">Jul</text><text x="1425.3" y="867" text-anchor="middle">Sep</text><text x="1494.5" y="867" text-anchor="middle">Nov</text><text x="1565.5" y="867" text-anchor="middle" font-weight="bold" fill="#222">2025</text><text x="1627.5" y="867" text-anchor="middle">Mar</text><text x="1697.8" y="867" text-anchor="middle">May</text><text x="1766.9" y="867" text-anchor="middle">Jul</text><text x="1829.7" y="867" text-anchor="middle">Sep</text></g>
<g font-size="7.7" font-weight="bold"><rect x="1856" y="177.0" width="27" height="11" rx="1.5" fill="#990033"/><text x="1870.0" y="185.5" text-anchor="middle" fill="#fff">92.44</text><rect x="1856" y="188.0" width="27" height="11" rx="1.5" fill="#00cccc"/><text x="1870.0" y="196.5" text-anchor="middle" fill="#055">88.76</text><rect x="1856" y="199.0" width="27" height="11" rx="1.5" fill="#00cc00"/><text x="1870.0" y="207.5" text-anchor="middle" fill="#fff">88.74</text><rect x="1856" y="210.5" width="27" height="11" rx="1.5" fill="#000"/><text x="1870.0" y="219.0" text-anchor="middle" fill="#fff">88.17</text><rect x="1856" y="221.5" width="27" height="11" rx="1.5" fill="#ff00ff"/><text x="1870.0" y="230.0" text-anchor="middle" fill="#fff">87.17</text><rect x="1856" y="232.5" width="27" height="11" rx="1.5" fill="#007a00"/><text x="1870.0" y="241.0" text-anchor="middle" fill="#fff">86.12</text><rect x="1856" y="264.0" width="27" height="11" rx="1.5" fill="#ff3333"/><text x="1870.0" y="272.5" text-anchor="middle" fill="#fff">80.98</text><rect x="1856" y="540.5" width="36" height="11" rx="1.5" fill="#555"/><text x="1874.5" y="549.0" text-anchor="middle" fill="#fff">53.7129</text><rect x="1856" y="567.5" width="36" height="11" rx="1.5" fill="#3333ff"/><text x="1874.5" y="576.0" text-anchor="middle" fill="#fff">40.2618</text><rect x="1856" y="579.5" width="36" height="11" rx="1.5" fill="#ff00ff"/><text x="1874.5" y="588.0" text-anchor="middle" fill="#fff">38.8065</text><rect x="1856" y="590.5" width="36" height="11" rx="1.5" fill="#0e6b4a"/><text x="1874.5" y="599.0" text-anchor="middle" fill="#fff">37.7301</text><rect x="1856" y="789.0" width="31" height="11" rx="1.5" fill="#3333ff"/><text x="1872.0" y="797.5" text-anchor="middle" fill="#fff">21.957</text><rect x="1856" y="802.0" width="31" height="11" rx="1.5" fill="#ff00ff"/><text x="1872.0" y="810.5" text-anchor="middle" fill="#fff">15.164</text></g>
<g font-size="12"><text x="18.0" y="29.8" fill="#333" textLength="183.4" lengthAdjust="spacingAndGlyphs">FOREX XAUXAG=R, 1W, NYS, Bid</text><text x="210.4" y="29.8" fill="#333" textLength="8.2" lengthAdjust="spacingAndGlyphs">O</text><text x="219.0" y="29.8" fill="#3c3cff" textLength="29.8" lengthAdjust="spacingAndGlyphs">90.71</text><text x="258.5" y="29.8" fill="#333" textLength="7.2" lengthAdjust="spacingAndGlyphs">H</text><text x="266.0" y="29.8" fill="#3c3cff" textLength="32.0" lengthAdjust="spacingAndGlyphs">91.34</text><text x="305.9" y="29.8" fill="#333">L</text><text x="311.3" y="29.8" fill="#3c3cff" textLength="32.5" lengthAdjust="spacingAndGlyphs">87.97</text><text x="352.1" y="29.8" fill="#333" textLength="7.2" lengthAdjust="spacingAndGlyphs">C</text><text x="359.6" y="29.8" fill="#3c3cff" textLength="31.2" lengthAdjust="spacingAndGlyphs">88.17</text><text x="399.5" y="29.8" fill="#3c3cff" textLength="77.0" lengthAdjust="spacingAndGlyphs">1.36 (+1.57%)</text><text x="494.9" y="29.8" fill="#333" textLength="89.5" lengthAdjust="spacingAndGlyphs">MA (4, close, 0)</text><text x="592.6" y="29.8" fill="#ff22ff" textLength="31.2" lengthAdjust="spacingAndGlyphs">87.17</text><text x="641.9" y="29.8" fill="#333" textLength="90.0" lengthAdjust="spacingAndGlyphs">MA (9, close, 0)</text><text x="740.2" y="29.8" fill="#00cc00" textLength="31.2" lengthAdjust="spacingAndGlyphs">88.74</text><text x="789.4" y="29.8" fill="#333" textLength="96.6" lengthAdjust="spacingAndGlyphs">MA (25, close, 0)</text><text x="894.3" y="29.8" fill="#aa1144" textLength="31.6" lengthAdjust="spacingAndGlyphs">92.44</text><text x="944.3" y="29.8" fill="#333" textLength="95.8" lengthAdjust="spacingAndGlyphs">MA (50, close, 0)</text><text x="1048.7" y="29.8" fill="#00c0d0" textLength="31.2" lengthAdjust="spacingAndGlyphs">88.76</text><text x="1098.3" y="29.8" fill="#333" textLength="103.0" lengthAdjust="spacingAndGlyphs">MA (100, close, 0)</text><text x="1209.6" y="29.8" fill="#118811" textLength="31.5" lengthAdjust="spacingAndGlyphs">86.12</text><text x="1259.2" y="29.8" fill="#333" textLength="103.0" lengthAdjust="spacingAndGlyphs">MA (250, close, 0)</text><text x="1370.8" y="29.8" fill="#ff3b30" textLength="30.8" lengthAdjust="spacingAndGlyphs">80.98</text><text x="18.4" y="453.0" fill="#333" textLength="181.6" lengthAdjust="spacingAndGlyphs">RSI (9, Exponential, Simple, 14)</text><text x="208.9" y="453.0" fill="#3c3cff" textLength="44.5" lengthAdjust="spacingAndGlyphs">40.2618</text><text x="261.6" y="453.0" fill="#2e8b6a" textLength="43.9" lengthAdjust="spacingAndGlyphs">37.7301</text><text x="324.8" y="453.0" fill="#333" textLength="188.7" lengthAdjust="spacingAndGlyphs">RSI (14, Exponential, Simple, 25)</text><text x="522.5" y="453.0" fill="#ff22ff" textLength="44.4" lengthAdjust="spacingAndGlyphs">38.8065</text><text x="575.4" y="453.0" fill="#666" textLength="44.6" lengthAdjust="spacingAndGlyphs">53.7129</text><text x="18.1" y="666.2" fill="#333" textLength="186.1" lengthAdjust="spacingAndGlyphs">Stochastic Slow (5, 3, 3, Simple)</text><text x="213.0" y="666.2" fill="#3c3cff" textLength="37.6" lengthAdjust="spacingAndGlyphs">21.957</text><text x="259.9" y="666.2" fill="#ff22ff" textLength="37.1" lengthAdjust="spacingAndGlyphs">15.164</text></g>
<g fill="#0000ff" fill-opacity="0.92"><rect x="1833.04" y="884.97" width="0.97" height="1.05"/><rect x="1837.60" y="884.97" width="1.10" height="1.05"/><rect x="1855.01" y="884.97" width="1.24" height="1.05"/><rect x="1832.91" y="885.97" width="1.38" height="1.05"/><rect x="1836.50" y="885.97" width="3.31" height="1.05"/><rect x="1854.18" y="885.97" width="6.08" height="1.05"/><rect x="1832.91" y="886.96" width="8.01" height="1.05"/><rect x="1842.02" y="886.96" width="0.97" height="1.05"/><rect x="1850.86" y="886.96" width="1.10" height="1.05"/><rect x="1854.73" y="886.96" width="5.80" height="1.05"/><rect x="1832.63" y="887.96" width="6.35" height="1.05"/><rect x="1839.81" y="887.96" width="1.66" height="1.05"/><rect x="1842.57" y="887.96" width="7.73" height="1.05"/><rect x="1850.86" y="887.96" width="9.94" height="1.05"/><rect x="1831.94" y="888.98" width="4.28" height="1.05"/><rect x="1837.88" y="888.98" width="7.18" height="1.05"/><rect x="1846.99" y="888.98" width="13.81" height="1.05"/><rect x="1833.18" y="889.97" width="3.04" height="1.05"/><rect x="1837.88" y="889.97" width="7.18" height="1.05"/><rect x="1847.27" y="889.97" width="8.56" height="1.05"/><rect x="1857.22" y="889.97" width="3.31" height="1.05"/><rect x="1834.01" y="890.97" width="17.40" height="1.05"/><rect x="1852.80" y="890.97" width="7.18" height="1.05"/><rect x="1835.12" y="891.96" width="4.14" height="1.05"/><rect x="1840.92" y="891.96" width="4.97" height="1.05"/><rect x="1847.82" y="891.96" width="11.33" height="1.05"/><rect x="1832.91" y="892.98" width="1.38" height="1.05"/><rect x="1836.50" y="892.98" width="2.21" height="1.05"/><rect x="1840.92" y="892.98" width="4.42" height="1.05"/><rect x="1848.10" y="892.98" width="8.29" height="1.05"/><rect x="1859.15" y="892.98" width="1.38" height="1.05"/><rect x="1832.08" y="893.98" width="2.76" height="1.05"/><rect x="1836.22" y="893.98" width="2.76" height="1.05"/><rect x="1842.02" y="893.98" width="1.66" height="1.05"/><rect x="1845.34" y="893.98" width="2.21" height="1.05"/><rect x="1848.93" y="893.98" width="2.76" height="1.05"/><rect x="1853.62" y="893.98" width="4.42" height="1.05"/><rect x="1859.15" y="893.98" width="1.38" height="1.05"/><rect x="1836.22" y="894.97" width="1.93" height="1.05"/><rect x="1838.98" y="894.97" width="1.38" height="1.05"/><rect x="1842.30" y="894.97" width="2.76" height="1.05"/><rect x="1846.99" y="894.97" width="4.97" height="1.05"/><rect x="1854.73" y="894.97" width="3.31" height="1.05"/><rect x="1859.15" y="894.97" width="0.83" height="1.05"/><rect x="1835.94" y="895.97" width="1.66" height="1.05"/><rect x="1839.26" y="895.97" width="1.66" height="1.05"/><rect x="1843.13" y="895.97" width="2.76" height="1.05"/><rect x="1846.44" y="895.97" width="4.42" height="1.05"/><rect x="1851.97" y="895.97" width="1.93" height="1.05"/><rect x="1856.11" y="895.97" width="1.66" height="1.05"/><rect x="1858.60" y="895.97" width="1.10" height="1.05"/><rect x="1834.29" y="896.99" width="2.76" height="1.05"/><rect x="1839.26" y="896.99" width="2.49" height="1.05"/><rect x="1843.13" y="896.99" width="7.18" height="1.05"/><rect x="1851.97" y="896.99" width="1.93" height="1.05"/><rect x="1856.11" y="896.99" width="1.66" height="1.05"/><rect x="1835.12" y="897.98" width="1.93" height="1.05"/><rect x="1843.13" y="897.98" width="7.18" height="1.05"/><rect x="1855.28" y="897.98" width="2.49" height="1.05"/><rect x="1835.39" y="898.98" width="2.21" height="1.05"/><rect x="1844.23" y="898.98" width="5.52" height="1.05"/><rect x="1855.28" y="898.98" width="2.49" height="1.05"/><rect x="1835.12" y="899.97" width="1.38" height="1.05"/><rect x="1845.34" y="899.97" width="3.31" height="1.05"/><rect x="1855.83" y="899.97" width="1.38" height="1.05"/><rect x="1835.12" y="900.97" width="0.83" height="1.05"/><rect x="1838.15" y="900.97" width="2.76" height="1.05"/><rect x="1843.13" y="900.97" width="0.83" height="1.05"/><rect x="1850.03" y="900.97" width="1.93" height="1.05"/><rect x="1856.11" y="900.97" width="0.55" height="1.05"/><rect x="1838.71" y="901.96" width="1.10" height="1.05"/><rect x="1843.13" y="901.96" width="0.83" height="1.05"/><rect x="1847.82" y="901.96" width="0.83" height="1.05"/><rect x="1850.31" y="901.96" width="1.38" height="1.05"/><rect x="1854.18" y="901.96" width="0.55" height="1.05"/><rect x="1846.17" y="902.98" width="1.93" height="1.05"/></g>
<text x="1866.5" y="899.8" font-size="15" font-weight="bold" fill="#0000ff" textLength="39.5" lengthAdjust="spacing">LSEG</text>
</svg></body></html>
